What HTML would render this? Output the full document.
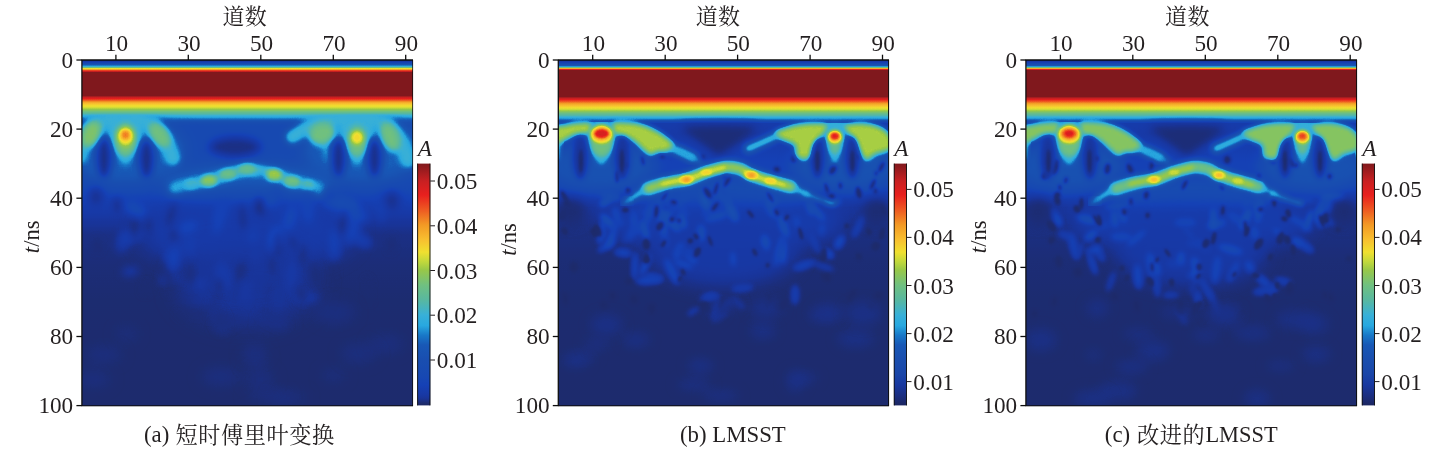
<!DOCTYPE html>
<html><head><meta charset="utf-8"><title>figure</title>
<style>html,body{margin:0;padding:0;background:#fff;}svg{display:block;will-change:transform;}text{font-family:"Liberation Serif","Noto Serif CJK SC",serif;}</style></head><body>
<svg width="1429" height="450" viewBox="0 0 1429 450">
<rect width="1429" height="450" fill="#fff"/>
<defs>
<filter id="jet" x="-5%" y="-5%" width="110%" height="110%" color-interpolation-filters="sRGB"><feComponentTransfer><feFuncR type="table" tableValues="0.114 0.114 0.114 0.114 0.114 0.114 0.114 0.114 0.114 0.114 0.114 0.114 0.114 0.114 0.114 0.114 0.114 0.114 0.114 0.114 0.114 0.114 0.114 0.114 0.114 0.114 0.113 0.113 0.112 0.111 0.111 0.110 0.109 0.108 0.108 0.107 0.106 0.105 0.104 0.103 0.102 0.101 0.100 0.099 0.098 0.098 0.097 0.097 0.096 0.096 0.095 0.095 0.095 0.094 0.094 0.093 0.093 0.092 0.092 0.091 0.091 0.090 0.090 0.089 0.089 0.088 0.087 0.087 0.086 0.086 0.085 0.084 0.084 0.083 0.083 0.083 0.083 0.084 0.084 0.085 0.085 0.086 0.086 0.087 0.088 0.088 0.089 0.089 0.090 0.090 0.091 0.091 0.091 0.092 0.092 0.092 0.093 0.093 0.093 0.094 0.094 0.094 0.095 0.095 0.095 0.096 0.096 0.096 0.097 0.097 0.098 0.098 0.098 0.098 0.097 0.097 0.097 0.097 0.096 0.096 0.096 0.096 0.095 0.095 0.095 0.095 0.094 0.094 0.094 0.094 0.094 0.094 0.094 0.094 0.094 0.094 0.094 0.094 0.099 0.105 0.112 0.119 0.126 0.133 0.139 0.146 0.153 0.160 0.167 0.173 0.180 0.186 0.193 0.200 0.206 0.213 0.220 0.230 0.240 0.250 0.259 0.269 0.280 0.290 0.300 0.310 0.320 0.331 0.341 0.350 0.358 0.366 0.374 0.382 0.390 0.398 0.406 0.415 0.423 0.431 0.440 0.454 0.468 0.482 0.497 0.511 0.525 0.540 0.554 0.569 0.584 0.601 0.629 0.657 0.685 0.714 0.742 0.771 0.798 0.826 0.855 0.883 0.911 0.940 0.945 0.949 0.953 0.957 0.961 0.965 0.969 0.972 0.970 0.968 0.966 0.964 0.962 0.960 0.958 0.956 0.953 0.951 0.949 0.947 0.945 0.943 0.940 0.938 0.936 0.934 0.931 0.929 0.926 0.923 0.920 0.918 0.915 0.912 0.907 0.892 0.876 0.860 0.844 0.827 0.811 0.795 0.774 0.744 0.714 0.684 0.654 0.624 0.594 0.563 0.533 0.502"/><feFuncG type="table" tableValues="0.157 0.157 0.157 0.157 0.157 0.157 0.158 0.158 0.158 0.159 0.159 0.160 0.160 0.161 0.162 0.162 0.163 0.164 0.165 0.166 0.167 0.168 0.169 0.170 0.171 0.172 0.173 0.174 0.176 0.177 0.179 0.180 0.182 0.183 0.185 0.186 0.188 0.190 0.192 0.194 0.195 0.197 0.199 0.201 0.204 0.205 0.207 0.209 0.210 0.212 0.214 0.216 0.218 0.220 0.221 0.223 0.224 0.225 0.227 0.228 0.230 0.232 0.233 0.235 0.236 0.238 0.240 0.241 0.243 0.245 0.247 0.249 0.250 0.252 0.254 0.256 0.258 0.260 0.262 0.264 0.265 0.267 0.269 0.271 0.273 0.275 0.277 0.280 0.282 0.283 0.284 0.285 0.286 0.287 0.288 0.289 0.290 0.291 0.292 0.293 0.294 0.295 0.296 0.297 0.298 0.299 0.300 0.301 0.302 0.303 0.305 0.306 0.308 0.310 0.312 0.315 0.317 0.319 0.322 0.324 0.326 0.329 0.331 0.334 0.336 0.339 0.341 0.344 0.351 0.364 0.376 0.389 0.401 0.414 0.427 0.440 0.453 0.466 0.484 0.504 0.524 0.545 0.565 0.586 0.607 0.627 0.649 0.660 0.664 0.667 0.670 0.674 0.677 0.680 0.684 0.687 0.690 0.693 0.695 0.698 0.700 0.703 0.705 0.708 0.710 0.713 0.715 0.718 0.721 0.723 0.726 0.728 0.731 0.734 0.737 0.739 0.742 0.745 0.748 0.750 0.753 0.756 0.759 0.762 0.764 0.767 0.770 0.773 0.776 0.779 0.782 0.786 0.797 0.809 0.820 0.831 0.843 0.850 0.855 0.859 0.864 0.869 0.873 0.878 0.863 0.848 0.832 0.816 0.800 0.784 0.767 0.751 0.736 0.720 0.704 0.688 0.672 0.656 0.640 0.624 0.608 0.583 0.556 0.528 0.500 0.472 0.444 0.416 0.388 0.359 0.333 0.307 0.281 0.254 0.228 0.201 0.175 0.148 0.125 0.125 0.125 0.125 0.125 0.125 0.125 0.125 0.124 0.122 0.119 0.116 0.113 0.110 0.107 0.104 0.101 0.098"/><feFuncB type="table" tableValues="0.384 0.384 0.385 0.385 0.386 0.386 0.387 0.388 0.390 0.391 0.393 0.395 0.396 0.399 0.401 0.403 0.406 0.409 0.412 0.415 0.418 0.422 0.425 0.429 0.433 0.437 0.443 0.450 0.457 0.465 0.472 0.480 0.489 0.497 0.506 0.515 0.525 0.533 0.541 0.549 0.558 0.567 0.576 0.585 0.594 0.600 0.605 0.610 0.616 0.621 0.627 0.632 0.638 0.643 0.646 0.649 0.652 0.655 0.658 0.661 0.664 0.667 0.670 0.673 0.677 0.680 0.683 0.687 0.690 0.694 0.698 0.701 0.705 0.709 0.712 0.713 0.712 0.711 0.710 0.709 0.708 0.707 0.705 0.704 0.703 0.702 0.701 0.700 0.698 0.698 0.698 0.697 0.697 0.697 0.696 0.696 0.696 0.695 0.695 0.695 0.694 0.694 0.694 0.693 0.693 0.692 0.692 0.692 0.691 0.691 0.691 0.690 0.691 0.693 0.694 0.695 0.697 0.698 0.700 0.701 0.703 0.704 0.705 0.707 0.708 0.710 0.711 0.713 0.717 0.724 0.731 0.738 0.745 0.753 0.760 0.767 0.775 0.782 0.791 0.801 0.811 0.821 0.832 0.842 0.852 0.863 0.873 0.877 0.874 0.870 0.867 0.864 0.860 0.857 0.854 0.850 0.846 0.829 0.812 0.795 0.777 0.760 0.742 0.725 0.707 0.689 0.671 0.653 0.634 0.621 0.610 0.600 0.589 0.578 0.568 0.557 0.546 0.535 0.524 0.513 0.501 0.481 0.462 0.442 0.422 0.402 0.381 0.361 0.341 0.320 0.299 0.281 0.272 0.264 0.256 0.247 0.238 0.231 0.224 0.217 0.210 0.203 0.196 0.189 0.188 0.188 0.188 0.188 0.188 0.188 0.188 0.188 0.183 0.179 0.174 0.170 0.165 0.160 0.156 0.151 0.146 0.144 0.143 0.142 0.140 0.139 0.138 0.136 0.135 0.134 0.132 0.130 0.128 0.127 0.125 0.123 0.121 0.119 0.118 0.120 0.122 0.124 0.126 0.128 0.130 0.132 0.133 0.131 0.128 0.126 0.124 0.122 0.120 0.118 0.116 0.114"/></feComponentTransfer></filter>
<filter id="b0_8" x="-60%" y="-60%" width="220%" height="220%" color-interpolation-filters="sRGB"><feGaussianBlur stdDeviation="0.8"/></filter>
<filter id="b1" x="-60%" y="-60%" width="220%" height="220%" color-interpolation-filters="sRGB"><feGaussianBlur stdDeviation="1"/></filter>
<filter id="b1_2" x="-60%" y="-60%" width="220%" height="220%" color-interpolation-filters="sRGB"><feGaussianBlur stdDeviation="1.2"/></filter>
<filter id="b1_3" x="-60%" y="-60%" width="220%" height="220%" color-interpolation-filters="sRGB"><feGaussianBlur stdDeviation="1.3"/></filter>
<filter id="b1_5" x="-60%" y="-60%" width="220%" height="220%" color-interpolation-filters="sRGB"><feGaussianBlur stdDeviation="1.5"/></filter>
<filter id="b1_6" x="-60%" y="-60%" width="220%" height="220%" color-interpolation-filters="sRGB"><feGaussianBlur stdDeviation="1.6"/></filter>
<filter id="b1_8" x="-60%" y="-60%" width="220%" height="220%" color-interpolation-filters="sRGB"><feGaussianBlur stdDeviation="1.8"/></filter>
<filter id="b2" x="-60%" y="-60%" width="220%" height="220%" color-interpolation-filters="sRGB"><feGaussianBlur stdDeviation="2"/></filter>
<filter id="b2_2" x="-60%" y="-60%" width="220%" height="220%" color-interpolation-filters="sRGB"><feGaussianBlur stdDeviation="2.2"/></filter>
<filter id="b2_5" x="-60%" y="-60%" width="220%" height="220%" color-interpolation-filters="sRGB"><feGaussianBlur stdDeviation="2.5"/></filter>
<filter id="b3" x="-60%" y="-60%" width="220%" height="220%" color-interpolation-filters="sRGB"><feGaussianBlur stdDeviation="3"/></filter>
<filter id="b3_5" x="-60%" y="-60%" width="220%" height="220%" color-interpolation-filters="sRGB"><feGaussianBlur stdDeviation="3.5"/></filter>
<filter id="b4" x="-60%" y="-60%" width="220%" height="220%" color-interpolation-filters="sRGB"><feGaussianBlur stdDeviation="4"/></filter>
<filter id="b5" x="-60%" y="-60%" width="220%" height="220%" color-interpolation-filters="sRGB"><feGaussianBlur stdDeviation="5"/></filter>
<filter id="b6" x="-60%" y="-60%" width="220%" height="220%" color-interpolation-filters="sRGB"><feGaussianBlur stdDeviation="6"/></filter>
<filter id="b7" x="-60%" y="-60%" width="220%" height="220%" color-interpolation-filters="sRGB"><feGaussianBlur stdDeviation="7"/></filter>
<filter id="b8" x="-60%" y="-60%" width="220%" height="220%" color-interpolation-filters="sRGB"><feGaussianBlur stdDeviation="8"/></filter>
<filter id="b10" x="-60%" y="-60%" width="220%" height="220%" color-interpolation-filters="sRGB"><feGaussianBlur stdDeviation="10"/></filter>
<filter id="b12" x="-60%" y="-60%" width="220%" height="220%" color-interpolation-filters="sRGB"><feGaussianBlur stdDeviation="12"/></filter>
<linearGradient id="cb0" x1="0" y1="0" x2="0" y2="1"><stop offset="0.000" stop-color="#80191d"/><stop offset="0.072" stop-color="#c82022"/><stop offset="0.130" stop-color="#e8201e"/><stop offset="0.192" stop-color="#ee5a22"/><stop offset="0.254" stop-color="#f39a25"/><stop offset="0.316" stop-color="#f8c030"/><stop offset="0.366" stop-color="#f0e030"/><stop offset="0.407" stop-color="#c0d83c"/><stop offset="0.440" stop-color="#98c848"/><stop offset="0.502" stop-color="#70c080"/><stop offset="0.564" stop-color="#58b8a0"/><stop offset="0.626" stop-color="#38b0d8"/><stop offset="0.670" stop-color="#28a8e0"/><stop offset="0.710" stop-color="#1878c8"/><stop offset="0.750" stop-color="#1858b6"/><stop offset="0.810" stop-color="#194eb0"/><stop offset="0.880" stop-color="#1748b2"/><stop offset="0.915" stop-color="#1541b6"/><stop offset="0.957" stop-color="#1838a4"/><stop offset="0.970" stop-color="#193498"/><stop offset="0.980" stop-color="#1b3086"/><stop offset="0.990" stop-color="#1d2c70"/><stop offset="1.000" stop-color="#1d2862"/></linearGradient>
<linearGradient id="base0" x1="0" y1="0" x2="0" y2="1"><stop offset="0.0739" stop-color="#242424"/><stop offset="0.1823" stop-color="#d5d5d5"/><stop offset="0.1921" stop-color="#c6c6c6"/><stop offset="0.1970" stop-color="#bdbdbd"/><stop offset="0.2020" stop-color="#b2b2b2"/><stop offset="0.2069" stop-color="#a5a5a5"/><stop offset="0.2118" stop-color="#9a9a9a"/><stop offset="0.2167" stop-color="#8e8e8e"/><stop offset="0.2217" stop-color="#808080"/><stop offset="0.2278" stop-color="#6c6c6c"/><stop offset="0.2365" stop-color="#5f5f5f"/><stop offset="0.3325" stop-color="#5f5f5f"/><stop offset="0.3941" stop-color="#585858"/><stop offset="0.4310" stop-color="#434343"/><stop offset="0.4680" stop-color="#303030"/><stop offset="0.5049" stop-color="#242424"/><stop offset="0.5788" stop-color="#1e1e1e"/><stop offset="0.6650" stop-color="#1a1a1a"/><stop offset="0.9261" stop-color="#171717"/></linearGradient>
<linearGradient id="band0" x1="0" y1="0" x2="0" y2="1"><stop offset="0.0000" stop-color="#242424"/><stop offset="0.0532" stop-color="#333333"/><stop offset="0.0855" stop-color="#5f5f5f"/><stop offset="0.1129" stop-color="#828282"/><stop offset="0.1323" stop-color="#979797"/><stop offset="0.1516" stop-color="#b1b1b1"/><stop offset="0.1677" stop-color="#c9c9c9"/><stop offset="0.1839" stop-color="#d8d8d8"/><stop offset="0.2000" stop-color="#e8e8e8"/><stop offset="0.2161" stop-color="#f5f5f5"/><stop offset="0.2339" stop-color="#ffffff"/><stop offset="0.6048" stop-color="#ffffff"/><stop offset="0.6452" stop-color="#f2f2f2"/><stop offset="0.6855" stop-color="#e4e4e4"/><stop offset="0.7258" stop-color="#d5d5d5"/><stop offset="0.7581" stop-color="#cecece"/><stop offset="0.7984" stop-color="#c7c7c7"/><stop offset="0.8306" stop-color="#bebebe"/><stop offset="0.8629" stop-color="#b4b4b4"/><stop offset="0.8871" stop-color="#ababab"/><stop offset="0.9355" stop-color="#a1a1a1" stop-opacity="0"/></linearGradient>
<linearGradient id="cb1" x1="0" y1="0" x2="0" y2="1"><stop offset="0.000" stop-color="#80191d"/><stop offset="0.072" stop-color="#c82022"/><stop offset="0.130" stop-color="#e8201e"/><stop offset="0.192" stop-color="#ee5a22"/><stop offset="0.254" stop-color="#f39a25"/><stop offset="0.316" stop-color="#f8c030"/><stop offset="0.366" stop-color="#f0e030"/><stop offset="0.407" stop-color="#c0d83c"/><stop offset="0.440" stop-color="#98c848"/><stop offset="0.502" stop-color="#70c080"/><stop offset="0.564" stop-color="#58b8a0"/><stop offset="0.626" stop-color="#38b0d8"/><stop offset="0.670" stop-color="#28a8e0"/><stop offset="0.710" stop-color="#1878c8"/><stop offset="0.750" stop-color="#1858b6"/><stop offset="0.810" stop-color="#1a4eae"/><stop offset="0.870" stop-color="#1a46a8"/><stop offset="0.915" stop-color="#1838a0"/><stop offset="0.960" stop-color="#1b2e80"/><stop offset="1.000" stop-color="#1c2660"/></linearGradient>
<linearGradient id="base1" x1="0" y1="0" x2="0" y2="1"><stop offset="0.0739" stop-color="#242424"/><stop offset="0.1823" stop-color="#d5d5d5"/><stop offset="0.1921" stop-color="#c9c9c9"/><stop offset="0.1995" stop-color="#bdbdbd"/><stop offset="0.2044" stop-color="#b4b4b4"/><stop offset="0.2094" stop-color="#a7a7a7"/><stop offset="0.2143" stop-color="#9b9b9b"/><stop offset="0.2180" stop-color="#909090"/><stop offset="0.2217" stop-color="#828282"/><stop offset="0.2254" stop-color="#5f5f5f"/><stop offset="0.2303" stop-color="#3e3e3e"/><stop offset="0.2562" stop-color="#393939"/><stop offset="0.2857" stop-color="#434343"/><stop offset="0.3325" stop-color="#4c4c4c"/><stop offset="0.3818" stop-color="#4c4c4c"/><stop offset="0.4089" stop-color="#3e3e3e"/><stop offset="0.4384" stop-color="#303030"/><stop offset="0.4803" stop-color="#242424"/><stop offset="0.5665" stop-color="#1d1d1d"/><stop offset="0.6650" stop-color="#1a1a1a"/><stop offset="0.9261" stop-color="#171717"/></linearGradient>
<linearGradient id="band1" x1="0" y1="0" x2="0" y2="1"><stop offset="0.0000" stop-color="#242424"/><stop offset="0.0532" stop-color="#333333"/><stop offset="0.0935" stop-color="#5c5c5c"/><stop offset="0.1258" stop-color="#808080"/><stop offset="0.1435" stop-color="#999999"/><stop offset="0.1597" stop-color="#c6c6c6"/><stop offset="0.1758" stop-color="#e4e4e4"/><stop offset="0.1968" stop-color="#ffffff"/><stop offset="0.6210" stop-color="#ffffff"/><stop offset="0.6532" stop-color="#f5f5f5"/><stop offset="0.6855" stop-color="#eaeaea"/><stop offset="0.7258" stop-color="#dedede"/><stop offset="0.7581" stop-color="#d5d5d5"/><stop offset="0.7903" stop-color="#cecece"/><stop offset="0.8274" stop-color="#c7c7c7"/><stop offset="0.8548" stop-color="#bebebe"/><stop offset="0.8871" stop-color="#b4b4b4"/><stop offset="0.9113" stop-color="#ababab"/><stop offset="0.9516" stop-color="#a1a1a1" stop-opacity="0"/></linearGradient>
<linearGradient id="cb2" x1="0" y1="0" x2="0" y2="1"><stop offset="0.000" stop-color="#80191d"/><stop offset="0.072" stop-color="#c82022"/><stop offset="0.130" stop-color="#e8201e"/><stop offset="0.192" stop-color="#ee5a22"/><stop offset="0.254" stop-color="#f39a25"/><stop offset="0.316" stop-color="#f8c030"/><stop offset="0.366" stop-color="#f0e030"/><stop offset="0.407" stop-color="#c0d83c"/><stop offset="0.440" stop-color="#98c848"/><stop offset="0.502" stop-color="#70c080"/><stop offset="0.564" stop-color="#58b8a0"/><stop offset="0.626" stop-color="#38b0d8"/><stop offset="0.670" stop-color="#28a8e0"/><stop offset="0.710" stop-color="#1878c8"/><stop offset="0.750" stop-color="#1858b6"/><stop offset="0.810" stop-color="#1a4eae"/><stop offset="0.870" stop-color="#1a46a8"/><stop offset="0.915" stop-color="#1838a0"/><stop offset="0.960" stop-color="#1b2e80"/><stop offset="1.000" stop-color="#1c2660"/></linearGradient>
<linearGradient id="base2" x1="0" y1="0" x2="0" y2="1"><stop offset="0.0739" stop-color="#242424"/><stop offset="0.1823" stop-color="#d5d5d5"/><stop offset="0.1921" stop-color="#c9c9c9"/><stop offset="0.1995" stop-color="#bdbdbd"/><stop offset="0.2044" stop-color="#b4b4b4"/><stop offset="0.2094" stop-color="#a7a7a7"/><stop offset="0.2143" stop-color="#9b9b9b"/><stop offset="0.2180" stop-color="#909090"/><stop offset="0.2217" stop-color="#828282"/><stop offset="0.2254" stop-color="#5f5f5f"/><stop offset="0.2303" stop-color="#3e3e3e"/><stop offset="0.2562" stop-color="#393939"/><stop offset="0.2857" stop-color="#434343"/><stop offset="0.3325" stop-color="#4c4c4c"/><stop offset="0.3818" stop-color="#4c4c4c"/><stop offset="0.4089" stop-color="#3e3e3e"/><stop offset="0.4384" stop-color="#303030"/><stop offset="0.4803" stop-color="#242424"/><stop offset="0.5665" stop-color="#1d1d1d"/><stop offset="0.6650" stop-color="#1a1a1a"/><stop offset="0.9261" stop-color="#171717"/></linearGradient>
<linearGradient id="band2" x1="0" y1="0" x2="0" y2="1"><stop offset="0.0000" stop-color="#242424"/><stop offset="0.0532" stop-color="#333333"/><stop offset="0.0935" stop-color="#5c5c5c"/><stop offset="0.1258" stop-color="#808080"/><stop offset="0.1435" stop-color="#999999"/><stop offset="0.1597" stop-color="#c6c6c6"/><stop offset="0.1758" stop-color="#e4e4e4"/><stop offset="0.1968" stop-color="#ffffff"/><stop offset="0.6210" stop-color="#ffffff"/><stop offset="0.6532" stop-color="#f5f5f5"/><stop offset="0.6855" stop-color="#eaeaea"/><stop offset="0.7258" stop-color="#dedede"/><stop offset="0.7581" stop-color="#d5d5d5"/><stop offset="0.7903" stop-color="#cecece"/><stop offset="0.8274" stop-color="#c7c7c7"/><stop offset="0.8548" stop-color="#bebebe"/><stop offset="0.8871" stop-color="#b4b4b4"/><stop offset="0.9113" stop-color="#ababab"/><stop offset="0.9516" stop-color="#a1a1a1" stop-opacity="0"/></linearGradient>
<radialGradient id="gw"><stop offset="0.00" stop-color="#fff" stop-opacity="1.000"/><stop offset="0.15" stop-color="#fff" stop-opacity="0.946"/><stop offset="0.30" stop-color="#fff" stop-opacity="0.794"/><stop offset="0.45" stop-color="#fff" stop-opacity="0.578"/><stop offset="0.60" stop-color="#fff" stop-opacity="0.345"/><stop offset="0.75" stop-color="#fff" stop-opacity="0.146"/><stop offset="0.90" stop-color="#fff" stop-opacity="0.024"/><stop offset="1.00" stop-color="#fff" stop-opacity="0.000"/></radialGradient><radialGradient id="gk"><stop offset="0.00" stop-color="#000" stop-opacity="1.000"/><stop offset="0.15" stop-color="#000" stop-opacity="0.946"/><stop offset="0.30" stop-color="#000" stop-opacity="0.794"/><stop offset="0.45" stop-color="#000" stop-opacity="0.578"/><stop offset="0.60" stop-color="#000" stop-opacity="0.345"/><stop offset="0.75" stop-color="#000" stop-opacity="0.146"/><stop offset="0.90" stop-color="#000" stop-opacity="0.024"/><stop offset="1.00" stop-color="#000" stop-opacity="0.000"/></radialGradient>
</defs>
<clipPath id="cp0"><rect x="82.0" y="60.0" width="331.0" height="346.0"/></clipPath>
<g clip-path="url(#cp0)"><g filter="url(#jet)">
<rect x="52.0" y="30.0" width="391.0" height="406.0" fill="url(#base0)"/>
<g filter="url(#b8)"><ellipse cx="125.0" cy="150.0" rx="62.0" ry="34.0" fill="#828282"/></g>
<g filter="url(#b8)"><ellipse cx="364.0" cy="150.0" rx="62.0" ry="34.0" fill="#828282"/></g>
<g filter="url(#b7)"><ellipse cx="248.0" cy="183.0" rx="88.0" ry="20.0" fill="#808080"/></g>
<g filter="url(#b4)"><ellipse cx="235.0" cy="147.0" rx="27.0" ry="11.0" fill="#242424"/></g>
<path d="M79.0 156.0C79.8 153.3 81.7 144.8 84.0 140.0C86.3 135.2 89.0 130.3 93.0 127.0C97.0 123.7 102.7 121.5 108.0 120.0C113.3 118.5 119.3 118.0 125.0 118.0C130.7 118.0 137.0 118.4 142.0 120.0C147.0 121.6 151.2 124.2 155.0 127.5C158.8 130.8 162.0 134.9 165.0 140.0C168.0 145.1 171.7 155.0 173.0 158.0" fill="none" stroke="#9c9c9c" stroke-width="16.0" stroke-linecap="round" stroke-linejoin="round" filter="url(#b3)"/>
<path d="M110.0 120.0C115.3 116.7 135.7 116.7 141.0 120.0C146.3 123.3 143.2 134.2 142.0 140.0C140.8 145.8 136.8 150.8 134.0 155.0C131.2 159.2 128.3 165.0 125.5 165.0C122.7 165.0 119.8 159.2 117.0 155.0C114.2 150.8 110.2 145.8 109.0 140.0C107.8 134.2 104.7 123.3 110.0 120.0Z" fill="#9c9c9c" filter="url(#b3)"/>
<g filter="url(#b3)"><ellipse cx="104.0" cy="158.0" rx="7.5" ry="20.0" fill="#262626"/></g>
<g filter="url(#b3)"><ellipse cx="146.5" cy="159.0" rx="7.5" ry="19.0" fill="#262626"/></g>
<g filter="url(#b3)"><ellipse cx="91.0" cy="134.0" rx="9.5" ry="14.0" fill="#b8b8b8" transform="rotate(25 91.0 134.0)"/></g>
<g filter="url(#b3)"><ellipse cx="159.5" cy="135.0" rx="8.5" ry="14.0" fill="#b4b4b4" transform="rotate(-38 159.5 135.0)"/></g>
<g filter="url(#b3)"><ellipse cx="125.5" cy="139.5" rx="10.5" ry="16.0" fill="#b8b8b8"/></g>
<g filter="url(#b2_2)"><ellipse cx="125.5" cy="136.0" rx="8.0" ry="9.0" fill="#d0d0d0"/></g>
<g filter="url(#b1_6)"><ellipse cx="125.5" cy="135.0" rx="4.0" ry="4.0" fill="#e0e0e0"/></g>
<path d="M292.0 137.0C294.2 135.7 300.3 131.5 305.0 129.0C309.7 126.5 314.2 123.7 320.0 122.0C325.8 120.3 333.8 119.7 340.0 119.0C346.2 118.3 351.3 117.9 357.0 118.0C362.7 118.1 368.7 118.0 374.0 119.5C379.3 121.0 384.5 123.2 389.0 127.0C393.5 130.8 397.8 136.5 401.0 142.0C404.2 147.5 406.8 157.0 408.0 160.0" fill="none" stroke="#9c9c9c" stroke-width="16.0" stroke-linecap="round" stroke-linejoin="round" filter="url(#b3)"/>
<path d="M320.0 134.0C321.2 136.7 325.3 145.7 327.0 150.0C328.7 154.3 329.5 158.3 330.0 160.0" fill="none" stroke="#979797" stroke-width="7.0" stroke-linecap="round" stroke-linejoin="round" filter="url(#b3)"/>
<path d="M342.0 120.0C347.2 116.5 366.8 116.5 372.0 120.0C377.2 123.5 374.2 135.0 373.0 141.0C371.8 147.0 367.7 152.0 365.0 156.0C362.3 160.0 359.7 165.0 357.0 165.0C354.3 165.0 351.7 160.0 349.0 156.0C346.3 152.0 342.2 147.0 341.0 141.0C339.8 135.0 336.8 123.5 342.0 120.0Z" fill="#9c9c9c" filter="url(#b3)"/>
<g filter="url(#b3)"><ellipse cx="338.5" cy="158.0" rx="7.0" ry="19.0" fill="#262626"/></g>
<g filter="url(#b3)"><ellipse cx="374.5" cy="158.0" rx="7.0" ry="19.0" fill="#262626"/></g>
<g filter="url(#b3)"><ellipse cx="322.0" cy="133.5" rx="14.0" ry="11.0" fill="#b4b4b4" transform="rotate(-18 322.0 133.5)"/></g>
<g filter="url(#b3)"><ellipse cx="390.0" cy="137.0" rx="9.0" ry="15.0" fill="#b4b4b4" transform="rotate(-22 390.0 137.0)"/></g>
<g filter="url(#b3)"><ellipse cx="357.0" cy="141.0" rx="9.5" ry="15.0" fill="#b4b4b4"/></g>
<g filter="url(#b2)"><ellipse cx="357.0" cy="137.5" rx="6.5" ry="7.0" fill="#cdcdcd"/></g>
<path d="M175.0 189.0C177.5 188.3 184.2 186.3 190.0 185.0C195.8 183.7 203.7 182.8 210.0 181.0C216.3 179.2 221.7 176.4 228.0 174.5C234.3 172.6 243.0 170.0 248.0 169.5C253.0 169.0 253.7 170.6 258.0 171.5C262.3 172.4 268.3 173.2 274.0 175.0C279.7 176.8 286.3 180.2 292.0 182.0C297.7 183.8 303.3 184.7 308.0 186.0C312.7 187.3 318.0 189.3 320.0 190.0" fill="none" stroke="#999999" stroke-width="15.0" stroke-linecap="round" stroke-linejoin="round" filter="url(#b3)"/>
<path d="M190.0 185.0C193.3 184.3 203.7 182.8 210.0 181.0C216.3 179.2 221.7 176.4 228.0 174.5C234.3 172.6 243.0 170.0 248.0 169.5C253.0 169.0 253.7 170.6 258.0 171.5C262.3 172.4 268.3 173.2 274.0 175.0C279.7 176.8 286.3 180.2 292.0 182.0C297.7 183.8 305.3 185.3 308.0 186.0" fill="none" stroke="#a9a9a9" stroke-width="6.0" stroke-linecap="round" stroke-linejoin="round" filter="url(#b2_5)"/>
<g filter="url(#b2_2)"><ellipse cx="209.0" cy="181.0" rx="8.0" ry="6.0" fill="#c2c2c2"/></g>
<g filter="url(#b2_2)"><ellipse cx="228.0" cy="174.5" rx="8.0" ry="5.0" fill="#b4b4b4"/></g>
<g filter="url(#b2_2)"><ellipse cx="247.0" cy="169.5" rx="8.0" ry="5.0" fill="#afafaf"/></g>
<g filter="url(#b2_2)"><ellipse cx="274.0" cy="175.0" rx="8.0" ry="6.0" fill="#c2c2c2"/></g>
<g filter="url(#b2_2)"><ellipse cx="292.0" cy="182.0" rx="8.0" ry="5.5" fill="#bababa"/></g>
<g filter="url(#b2_2)"><ellipse cx="308.0" cy="186.0" rx="6.5" ry="5.0" fill="#adadad"/></g>
<g filter="url(#b2_2)"><ellipse cx="191.0" cy="185.0" rx="6.5" ry="4.5" fill="#a5a5a5"/></g>
<g filter="url(#b3)" opacity="0.70"><ellipse cx="261.0" cy="178.0" rx="4.0" ry="7.0" fill="#808080"/></g>
<g filter="url(#b12)" opacity="0.90"><ellipse cx="247.0" cy="232.0" rx="105.0" ry="36.0" fill="#3e3e3e"/></g>
<g filter="url(#b12)" opacity="0.90"><ellipse cx="247.0" cy="285.0" rx="70.0" ry="40.0" fill="#303030"/></g>
<g filter="url(#b4)" opacity="0.85"><ellipse cx="165.8" cy="269.8" rx="14.3" ry="3.7" fill="#2f2f2f" transform="rotate(95.196 165.8 269.8)"/></g>
<g filter="url(#b4)" opacity="0.85"><ellipse cx="351.6" cy="232.2" rx="12.7" ry="5.6" fill="#535353" transform="rotate(114.782 351.6 232.2)"/></g>
<g filter="url(#b4)" opacity="0.85"><ellipse cx="290.1" cy="217.9" rx="13.2" ry="5.4" fill="#616161" transform="rotate(108.402 290.1 217.9)"/></g>
<g filter="url(#b4)" opacity="0.85"><ellipse cx="275.2" cy="237.8" rx="12.7" ry="5.3" fill="#606060" transform="rotate(108.276 275.2 237.8)"/></g>
<g filter="url(#b4)" opacity="0.85"><ellipse cx="214.4" cy="303.7" rx="16.8" ry="3.7" fill="#252525" transform="rotate(111.779 214.4 303.7)"/></g>
<g filter="url(#b4)" opacity="0.85"><ellipse cx="227.2" cy="280.7" rx="11.9" ry="4.4" fill="#404040" transform="rotate(90.3621 227.2 280.7)"/></g>
<g filter="url(#b4)" opacity="0.85"><ellipse cx="273.1" cy="317.4" rx="16.6" ry="6.0" fill="#262626" transform="rotate(34.3156 273.1 317.4)"/></g>
<g filter="url(#b4)" opacity="0.85"><ellipse cx="268.4" cy="292.2" rx="13.7" ry="4.2" fill="#282828" transform="rotate(106.58 268.4 292.2)"/></g>
<g filter="url(#b4)" opacity="0.85"><ellipse cx="219.2" cy="217.9" rx="16.7" ry="3.6" fill="#5e5e5e" transform="rotate(103.44 219.2 217.9)"/></g>
<g filter="url(#b4)" opacity="0.85"><ellipse cx="194.6" cy="314.3" rx="18.0" ry="4.3" fill="#1d1d1d" transform="rotate(0.43363 194.6 314.3)"/></g>
<g filter="url(#b4)" opacity="0.85"><ellipse cx="277.9" cy="202.1" rx="14.1" ry="3.9" fill="#454545" transform="rotate(85.3968 277.9 202.1)"/></g>
<g filter="url(#b4)" opacity="0.85"><ellipse cx="361.0" cy="239.4" rx="11.8" ry="4.7" fill="#515151" transform="rotate(31.7328 361.0 239.4)"/></g>
<g filter="url(#b4)" opacity="0.85"><ellipse cx="291.6" cy="276.6" rx="17.4" ry="4.8" fill="#3d3d3d" transform="rotate(96.0063 291.6 276.6)"/></g>
<g filter="url(#b4)" opacity="0.85"><ellipse cx="315.3" cy="229.4" rx="13.2" ry="4.9" fill="#3c3c3c" transform="rotate(113.89 315.3 229.4)"/></g>
<g filter="url(#b4)" opacity="0.85"><ellipse cx="220.7" cy="274.6" rx="14.3" ry="3.7" fill="#444444" transform="rotate(95.7899 220.7 274.6)"/></g>
<g filter="url(#b4)" opacity="0.85"><ellipse cx="236.5" cy="287.7" rx="15.4" ry="3.6" fill="#2a2a2a" transform="rotate(100.348 236.5 287.7)"/></g>
<g filter="url(#b4)" opacity="0.85"><ellipse cx="169.8" cy="258.2" rx="11.6" ry="4.3" fill="#434343" transform="rotate(81.0013 169.8 258.2)"/></g>
<g filter="url(#b4)" opacity="0.85"><ellipse cx="276.6" cy="237.7" rx="8.3" ry="4.9" fill="#5b5b5b" transform="rotate(103.614 276.6 237.7)"/></g>
<g filter="url(#b4)" opacity="0.85"><ellipse cx="188.1" cy="227.4" rx="9.9" ry="4.6" fill="#5e5e5e" transform="rotate(-20.9044 188.1 227.4)"/></g>
<g filter="url(#b4)" opacity="0.85"><ellipse cx="123.6" cy="240.5" rx="12.4" ry="5.6" fill="#414141" transform="rotate(106.677 123.6 240.5)"/></g>
<g filter="url(#b4)" opacity="0.85"><ellipse cx="196.4" cy="283.8" rx="10.3" ry="3.8" fill="#3c3c3c" transform="rotate(-3.91183 196.4 283.8)"/></g>
<g filter="url(#b4)" opacity="0.85"><ellipse cx="351.9" cy="222.2" rx="14.4" ry="5.5" fill="#505050" transform="rotate(105.361 351.9 222.2)"/></g>
<g filter="url(#b4)" opacity="0.85"><ellipse cx="132.2" cy="236.5" rx="11.5" ry="4.5" fill="#4e4e4e" transform="rotate(-18.306 132.2 236.5)"/></g>
<g filter="url(#b4)" opacity="0.85"><ellipse cx="219.0" cy="319.5" rx="17.4" ry="5.7" fill="#292929" transform="rotate(65.2331 219.0 319.5)"/></g>
<g filter="url(#b4)" opacity="0.85"><ellipse cx="226.6" cy="323.4" rx="15.5" ry="5.6" fill="#242424" transform="rotate(-22.2327 226.6 323.4)"/></g>
<g filter="url(#b4)" opacity="0.85"><ellipse cx="252.9" cy="236.2" rx="8.7" ry="5.0" fill="#484848" transform="rotate(76.3733 252.9 236.2)"/></g>
<g filter="url(#b4)" opacity="0.85"><ellipse cx="343.2" cy="204.0" rx="17.2" ry="5.7" fill="#707070" transform="rotate(15.4964 343.2 204.0)"/></g>
<g filter="url(#b4)" opacity="0.85"><ellipse cx="270.9" cy="199.7" rx="11.0" ry="5.2" fill="#616161" transform="rotate(-26.2543 270.9 199.7)"/></g>
<g filter="url(#b4)" opacity="0.85"><ellipse cx="220.3" cy="322.0" rx="10.5" ry="5.7" fill="#212121" transform="rotate(82.0676 220.3 322.0)"/></g>
<g filter="url(#b4)" opacity="0.85"><ellipse cx="334.5" cy="244.4" rx="16.2" ry="3.9" fill="#5a5a5a" transform="rotate(91.7319 334.5 244.4)"/></g>
<g filter="url(#b4)" opacity="0.85"><ellipse cx="347.3" cy="199.0" rx="8.5" ry="4.2" fill="#545454" transform="rotate(108.128 347.3 199.0)"/></g>
<g filter="url(#b4)" opacity="0.85"><ellipse cx="255.5" cy="253.8" rx="8.0" ry="3.6" fill="#3a3a3a" transform="rotate(103.825 255.5 253.8)"/></g>
<g filter="url(#b4)" opacity="0.85"><ellipse cx="130.6" cy="207.0" rx="8.9" ry="4.8" fill="#545454" transform="rotate(28.3559 130.6 207.0)"/></g>
<g filter="url(#b4)" opacity="0.85"><ellipse cx="189.5" cy="244.4" rx="11.6" ry="4.0" fill="#474747" transform="rotate(94.3307 189.5 244.4)"/></g>
<g filter="url(#b4)" opacity="0.85"><ellipse cx="130.4" cy="271.3" rx="8.8" ry="3.9" fill="#3e3e3e" transform="rotate(-9.58096 130.4 271.3)"/></g>
<g filter="url(#b4)" opacity="0.85"><ellipse cx="279.4" cy="301.3" rx="14.2" ry="4.6" fill="#2d2d2d" transform="rotate(105.058 279.4 301.3)"/></g>
<g filter="url(#b4)" opacity="0.85"><ellipse cx="245.8" cy="290.8" rx="12.6" ry="4.1" fill="#383838" transform="rotate(99.7062 245.8 290.8)"/></g>
<g filter="url(#b4)" opacity="0.85"><ellipse cx="307.5" cy="207.4" rx="16.8" ry="5.8" fill="#575757" transform="rotate(86.2928 307.5 207.4)"/></g>
<g filter="url(#b4)" opacity="0.85"><ellipse cx="173.3" cy="259.3" rx="14.6" ry="5.7" fill="#525252" transform="rotate(105.661 173.3 259.3)"/></g>
<g filter="url(#b4)" opacity="0.85"><ellipse cx="298.9" cy="294.9" rx="13.9" ry="3.5" fill="#2a2a2a" transform="rotate(70.1567 298.9 294.9)"/></g>
<g filter="url(#b4)" opacity="0.85"><ellipse cx="332.0" cy="203.8" rx="16.8" ry="3.9" fill="#434343" transform="rotate(69.965 332.0 203.8)"/></g>
<g filter="url(#b4)" opacity="0.85"><ellipse cx="352.9" cy="214.0" rx="16.4" ry="5.9" fill="#5e5e5e" transform="rotate(13.8828 352.9 214.0)"/></g>
<g filter="url(#b4)" opacity="0.85"><ellipse cx="339.6" cy="202.8" rx="15.2" ry="3.8" fill="#6a6a6a" transform="rotate(0.906059 339.6 202.8)"/></g>
<g filter="url(#b4)" opacity="0.85"><ellipse cx="381.7" cy="206.1" rx="16.3" ry="4.1" fill="#4c4c4c" transform="rotate(93.1989 381.7 206.1)"/></g>
<g filter="url(#b4)" opacity="0.85"><ellipse cx="169.5" cy="279.3" rx="11.7" ry="4.5" fill="#393939" transform="rotate(-8.5016 169.5 279.3)"/></g>
<g filter="url(#b4)" opacity="0.85"><ellipse cx="221.6" cy="209.0" rx="12.1" ry="5.4" fill="#4b4b4b" transform="rotate(113.653 221.6 209.0)"/></g>
<g filter="url(#b4)" opacity="0.85"><ellipse cx="306.2" cy="297.8" rx="12.8" ry="5.1" fill="#3c3c3c" transform="rotate(1.36737 306.2 297.8)"/></g>
<g filter="url(#b4)" opacity="0.85"><ellipse cx="138.3" cy="210.7" rx="13.2" ry="4.6" fill="#666666" transform="rotate(33.3292 138.3 210.7)"/></g>
<g filter="url(#b3_5)" opacity="0.70"><ellipse cx="148.4" cy="223.1" rx="3.4" ry="10.7" fill="#1c1c1c" transform="rotate(-7.4061 148.4 223.1)"/></g>
<g filter="url(#b3_5)" opacity="0.70"><ellipse cx="162.9" cy="267.6" rx="4.9" ry="8.4" fill="#1c1c1c" transform="rotate(8.21333 162.9 267.6)"/></g>
<g filter="url(#b3_5)" opacity="0.70"><ellipse cx="219.7" cy="284.6" rx="4.2" ry="8.1" fill="#1c1c1c" transform="rotate(-11.2958 219.7 284.6)"/></g>
<g filter="url(#b3_5)" opacity="0.70"><ellipse cx="97.3" cy="245.3" rx="3.8" ry="7.4" fill="#1c1c1c" transform="rotate(-5.58119 97.3 245.3)"/></g>
<g filter="url(#b3_5)" opacity="0.70"><ellipse cx="191.1" cy="276.3" rx="3.3" ry="13.9" fill="#1c1c1c" transform="rotate(-0.816406 191.1 276.3)"/></g>
<g filter="url(#b3_5)" opacity="0.70"><ellipse cx="278.1" cy="244.1" rx="4.7" ry="12.6" fill="#1c1c1c" transform="rotate(2.28485 278.1 244.1)"/></g>
<g filter="url(#b3_5)" opacity="0.70"><ellipse cx="241.1" cy="270.7" rx="4.7" ry="9.2" fill="#1c1c1c" transform="rotate(9.34354 241.1 270.7)"/></g>
<g filter="url(#b3_5)" opacity="0.70"><ellipse cx="391.5" cy="244.1" rx="3.5" ry="7.9" fill="#1c1c1c" transform="rotate(8.70753 391.5 244.1)"/></g>
<g filter="url(#b3_5)" opacity="0.70"><ellipse cx="302.1" cy="295.7" rx="4.7" ry="7.9" fill="#1c1c1c" transform="rotate(-12.4151 302.1 295.7)"/></g>
<g filter="url(#b3_5)" opacity="0.70"><ellipse cx="171.2" cy="214.7" rx="4.4" ry="12.9" fill="#1c1c1c" transform="rotate(15.9904 171.2 214.7)"/></g>
<g filter="url(#b3_5)" opacity="0.70"><ellipse cx="170.1" cy="285.8" rx="3.6" ry="9.4" fill="#1c1c1c" transform="rotate(9.15874 170.1 285.8)"/></g>
<g filter="url(#b3_5)" opacity="0.70"><ellipse cx="117.0" cy="204.7" rx="4.7" ry="8.3" fill="#1c1c1c" transform="rotate(-5.73356 117.0 204.7)"/></g>
<g filter="url(#b3_5)" opacity="0.70"><ellipse cx="272.2" cy="265.9" rx="3.0" ry="8.7" fill="#1c1c1c" transform="rotate(-2.55115 272.2 265.9)"/></g>
<g filter="url(#b3_5)" opacity="0.70"><ellipse cx="242.6" cy="217.1" rx="4.2" ry="13.6" fill="#1c1c1c" transform="rotate(-4.3632 242.6 217.1)"/></g>
<g filter="url(#b3_5)" opacity="0.70"><ellipse cx="260.9" cy="207.5" rx="3.5" ry="11.3" fill="#1c1c1c" transform="rotate(-15.4988 260.9 207.5)"/></g>
<g filter="url(#b3_5)" opacity="0.70"><ellipse cx="368.6" cy="290.4" rx="3.2" ry="13.5" fill="#1c1c1c" transform="rotate(-5.03106 368.6 290.4)"/></g>
<g filter="url(#b3_5)" opacity="0.70"><ellipse cx="332.5" cy="274.5" rx="3.6" ry="11.4" fill="#1c1c1c" transform="rotate(6.16313 332.5 274.5)"/></g>
<g filter="url(#b3_5)" opacity="0.70"><ellipse cx="343.1" cy="222.9" rx="4.5" ry="13.7" fill="#1c1c1c" transform="rotate(6.913 343.1 222.9)"/></g>
<g filter="url(#b3_5)" opacity="0.70"><ellipse cx="258.4" cy="206.9" rx="4.0" ry="8.8" fill="#1c1c1c" transform="rotate(8.72373 258.4 206.9)"/></g>
<g filter="url(#b3_5)" opacity="0.70"><ellipse cx="303.1" cy="254.5" rx="3.4" ry="11.2" fill="#1c1c1c" transform="rotate(5.23538 303.1 254.5)"/></g>
<g filter="url(#b3_5)" opacity="0.70"><ellipse cx="146.2" cy="288.4" rx="4.3" ry="7.0" fill="#1c1c1c" transform="rotate(17.2738 146.2 288.4)"/></g>
<g filter="url(#b3_5)" opacity="0.70"><ellipse cx="134.4" cy="229.8" rx="4.4" ry="10.8" fill="#1c1c1c" transform="rotate(2.19695 134.4 229.8)"/></g>
<g filter="url(#b3_5)" opacity="0.70"><ellipse cx="293.3" cy="243.1" rx="3.6" ry="7.4" fill="#1c1c1c" transform="rotate(-17.2561 293.3 243.1)"/></g>
<g filter="url(#b3_5)" opacity="0.70"><ellipse cx="314.8" cy="274.2" rx="4.1" ry="11.9" fill="#1c1c1c" transform="rotate(-5.63111 314.8 274.2)"/></g>
<g filter="url(#b3_5)" opacity="0.70"><ellipse cx="173.5" cy="235.3" rx="4.7" ry="6.3" fill="#1c1c1c" transform="rotate(0.188472 173.5 235.3)"/></g>
<g filter="url(#b3_5)" opacity="0.70"><ellipse cx="167.6" cy="275.7" rx="3.7" ry="8.7" fill="#1c1c1c" transform="rotate(-3.86645 167.6 275.7)"/></g>
<g filter="url(#b4)" opacity="0.75"><ellipse cx="392.0" cy="200.0" rx="8.0" ry="10.0" fill="#1c1c1c"/></g>
<g filter="url(#b4)" opacity="0.75"><ellipse cx="96.0" cy="196.0" rx="8.0" ry="10.0" fill="#1c1c1c"/></g>
<g filter="url(#b7)" opacity="0.70"><ellipse cx="259.9" cy="379.5" rx="14.9" ry="11.1" fill="#262626"/></g>
<g filter="url(#b7)" opacity="0.70"><ellipse cx="126.8" cy="334.3" rx="11.4" ry="6.7" fill="#262626"/></g>
<g filter="url(#b7)" opacity="0.70"><ellipse cx="333.5" cy="375.5" rx="12.6" ry="7.1" fill="#262626"/></g>
<g filter="url(#b7)" opacity="0.70"><ellipse cx="221.2" cy="376.9" rx="21.4" ry="10.5" fill="#262626"/></g>
<g filter="url(#b7)" opacity="0.70"><ellipse cx="275.5" cy="323.2" rx="15.6" ry="7.2" fill="#262626"/></g>
<g filter="url(#b7)" opacity="0.70"><ellipse cx="255.6" cy="361.2" rx="12.8" ry="7.5" fill="#262626"/></g>
<g filter="url(#b7)" opacity="0.70"><ellipse cx="334.3" cy="312.7" rx="21.2" ry="11.3" fill="#262626"/></g>
<g filter="url(#b7)" opacity="0.70"><ellipse cx="386.3" cy="344.5" rx="17.7" ry="9.5" fill="#262626"/></g>
<g filter="url(#b7)" opacity="0.70"><ellipse cx="288.4" cy="397.9" rx="19.6" ry="7.8" fill="#262626"/></g>
<g filter="url(#b7)" opacity="0.70"><ellipse cx="358.6" cy="353.6" rx="18.4" ry="10.4" fill="#262626"/></g>
<g filter="url(#b7)" opacity="0.70"><ellipse cx="92.7" cy="379.3" rx="19.3" ry="9.0" fill="#262626"/></g>
<g filter="url(#b7)" opacity="0.70"><ellipse cx="254.3" cy="351.4" rx="12.7" ry="9.2" fill="#262626"/></g>
<g filter="url(#b7)" opacity="0.70"><ellipse cx="103.5" cy="355.0" rx="19.0" ry="8.7" fill="#262626"/></g>
<g filter="url(#b7)" opacity="0.70"><ellipse cx="267.5" cy="396.3" rx="22.5" ry="6.8" fill="#262626"/></g>
<rect x="52.0" y="58.0" width="391.0" height="62" fill="url(#band0)"/>
</g></g>
<g stroke="#0d0d0d" stroke-width="1.3" fill="none">
<path d="M81.5 60.0H413.0"/>
<path d="M81.9 60.0V406.0"/>
<path d="M81.5 405.8H413.0" stroke-width="1"/>
<path d="M412.6 60.0V406.0" stroke-width="0.8"/>
<path d="M115.9 60.0V54.7"/>
<path d="M188.3 60.0V54.7"/>
<path d="M260.8 60.0V54.7"/>
<path d="M333.3 60.0V54.7"/>
<path d="M405.7 60.0V54.7"/>
<path d="M82.0 60.0H76.4"/>
<path d="M82.0 129.1H76.4"/>
<path d="M82.0 198.2H76.4"/>
<path d="M82.0 267.4H76.4"/>
<path d="M82.0 336.5H76.4"/>
<path d="M82.0 405.6H76.4"/>
</g>
<g font-family="Liberation Serif, serif" font-size="23.2" fill="#231f20">
<text x="116.6" y="50.6" text-anchor="middle">10</text>
<text x="189.1" y="50.6" text-anchor="middle">30</text>
<text x="261.5" y="50.6" text-anchor="middle">50</text>
<text x="334.0" y="50.6" text-anchor="middle">70</text>
<text x="406.4" y="50.6" text-anchor="middle">90</text>
<text x="73.2" y="67.7" text-anchor="end">0</text>
<text x="73.2" y="136.8" text-anchor="end">20</text>
<text x="73.2" y="205.9" text-anchor="end">40</text>
<text x="73.2" y="275.1" text-anchor="end">60</text>
<text x="73.2" y="344.2" text-anchor="end">80</text>
<text x="73.2" y="413.3" text-anchor="end">100</text>
<text transform="translate(38.9 236.8) rotate(-90)" text-anchor="middle" font-size="22.6"><tspan font-style="italic">t</tspan>/ns</text>
<text x="417.7" y="156.3" font-style="italic">A</text>
<text x="436.8" y="189.0">0.05</text>
<text x="436.8" y="233.8">0.04</text>
<text x="436.8" y="278.5">0.03</text>
<text x="436.8" y="323.2">0.02</text>
<text x="436.8" y="368.0">0.01</text>
</g>
<rect x="417.4" y="163.6" width="12.8" height="241.8" fill="url(#cb0)"/>
<g stroke="#231f20" stroke-width="1" fill="none">
<path d="M417.6 163.6V405.4M430.0 163.6V405.4" stroke="#0d0d0d" stroke-opacity="0.9" stroke-width="1"/>
<path d="M430.2 181.0h4.8"/>
<path d="M430.2 225.8h4.8"/>
<path d="M430.2 270.5h4.8"/>
<path d="M430.2 315.2h4.8"/>
<path d="M430.2 360.0h4.8"/>
</g>
<text x="222.4" y="23.6" font-family='"Liberation Serif","Noto Serif CJK SC",serif' font-size="22" letter-spacing="0.3" fill="#231f20">道数</text>
<clipPath id="cp1"><rect x="558.4" y="60.0" width="330.6" height="346.0"/></clipPath>
<g clip-path="url(#cp1)"><g filter="url(#jet)">
<rect x="528.4" y="30.0" width="390.6" height="406.0" fill="url(#base1)"/>
<g filter="url(#b7)"><ellipse cx="600.4" cy="166.0" rx="56.0" ry="26.0" fill="#757575"/></g>
<g filter="url(#b7)"><ellipse cx="846.4" cy="166.0" rx="54.0" ry="26.0" fill="#757575"/></g>
<g filter="url(#b6)"><ellipse cx="723.4" cy="196.0" rx="92.0" ry="15.0" fill="#727272"/></g>
<g filter="url(#b10)" opacity="0.90"><ellipse cx="723.4" cy="222.0" rx="120.0" ry="26.0" fill="#434343"/></g>
<g filter="url(#b10)" opacity="0.90"><ellipse cx="723.4" cy="250.0" rx="75.0" ry="35.0" fill="#393939"/></g>
<g filter="url(#b2_5)" opacity="0.90"><ellipse cx="669.5" cy="212.7" rx="10.3" ry="3.1" fill="#505050" transform="rotate(-42.7564 669.5 212.7)"/></g>
<g filter="url(#b2_5)" opacity="0.90"><ellipse cx="725.7" cy="198.6" rx="6.7" ry="3.2" fill="#7b7b7b" transform="rotate(64.1913 725.7 198.6)"/></g>
<g filter="url(#b2_5)" opacity="0.90"><ellipse cx="608.3" cy="221.7" rx="10.6" ry="3.2" fill="#787878" transform="rotate(44.7709 608.3 221.7)"/></g>
<g filter="url(#b2_5)" opacity="0.90"><ellipse cx="659.0" cy="211.9" rx="12.5" ry="2.8" fill="#6b6b6b" transform="rotate(78.5089 659.0 211.9)"/></g>
<g filter="url(#b2_5)" opacity="0.90"><ellipse cx="765.9" cy="240.2" rx="6.5" ry="2.9" fill="#646464" transform="rotate(63.7673 765.9 240.2)"/></g>
<g filter="url(#b2_5)" opacity="0.90"><ellipse cx="701.2" cy="233.0" rx="8.4" ry="3.9" fill="#686868" transform="rotate(87.1911 701.2 233.0)"/></g>
<g filter="url(#b2_5)" opacity="0.90"><ellipse cx="645.1" cy="265.2" rx="11.8" ry="3.0" fill="#626262" transform="rotate(112.508 645.1 265.2)"/></g>
<g filter="url(#b2_5)" opacity="0.90"><ellipse cx="606.5" cy="245.8" rx="9.9" ry="2.6" fill="#616161" transform="rotate(-34.8015 606.5 245.8)"/></g>
<g filter="url(#b2_5)" opacity="0.90"><ellipse cx="804.4" cy="265.1" rx="11.6" ry="3.5" fill="#545454" transform="rotate(-18.6252 804.4 265.1)"/></g>
<g filter="url(#b2_5)" opacity="0.90"><ellipse cx="710.0" cy="298.2" rx="11.3" ry="2.6" fill="#424242" transform="rotate(-2.59017 710.0 298.2)"/></g>
<g filter="url(#b2_5)" opacity="0.90"><ellipse cx="821.9" cy="229.3" rx="6.2" ry="3.3" fill="#515151" transform="rotate(100.119 821.9 229.3)"/></g>
<g filter="url(#b2_5)" opacity="0.90"><ellipse cx="606.2" cy="201.3" rx="8.0" ry="3.2" fill="#7c7c7c" transform="rotate(-37.066 606.2 201.3)"/></g>
<g filter="url(#b2_5)" opacity="0.90"><ellipse cx="738.5" cy="303.5" rx="8.2" ry="3.2" fill="#343434" transform="rotate(36.3984 738.5 303.5)"/></g>
<g filter="url(#b2_5)" opacity="0.90"><ellipse cx="616.6" cy="215.9" rx="9.9" ry="3.5" fill="#5a5a5a" transform="rotate(74.0002 616.6 215.9)"/></g>
<g filter="url(#b2_5)" opacity="0.90"><ellipse cx="683.4" cy="264.2" rx="10.1" ry="3.5" fill="#585858" transform="rotate(19.0494 683.4 264.2)"/></g>
<g filter="url(#b2_5)" opacity="0.90"><ellipse cx="814.5" cy="242.7" rx="11.1" ry="2.6" fill="#474747" transform="rotate(66.2122 814.5 242.7)"/></g>
<g filter="url(#b2_5)" opacity="0.90"><ellipse cx="634.3" cy="214.1" rx="6.0" ry="2.8" fill="#525252" transform="rotate(63.1545 634.3 214.1)"/></g>
<g filter="url(#b2_5)" opacity="0.90"><ellipse cx="681.7" cy="197.2" rx="7.2" ry="2.9" fill="#656565" transform="rotate(11.4069 681.7 197.2)"/></g>
<g filter="url(#b2_5)" opacity="0.90"><ellipse cx="681.8" cy="209.2" rx="9.7" ry="3.3" fill="#525252" transform="rotate(49.3103 681.8 209.2)"/></g>
<g filter="url(#b2_5)" opacity="0.90"><ellipse cx="601.7" cy="236.5" rx="7.3" ry="2.5" fill="#707070" transform="rotate(109.731 601.7 236.5)"/></g>
<g filter="url(#b2_5)" opacity="0.90"><ellipse cx="732.0" cy="212.2" rx="10.2" ry="4.2" fill="#787878" transform="rotate(61.6225 732.0 212.2)"/></g>
<g filter="url(#b2_5)" opacity="0.90"><ellipse cx="783.4" cy="226.4" rx="12.2" ry="3.4" fill="#6e6e6e" transform="rotate(70.0225 783.4 226.4)"/></g>
<g filter="url(#b2_5)" opacity="0.90"><ellipse cx="671.3" cy="221.7" rx="12.8" ry="3.9" fill="#727272" transform="rotate(48.4926 671.3 221.7)"/></g>
<g filter="url(#b2_5)" opacity="0.90"><ellipse cx="796.8" cy="222.1" rx="6.2" ry="2.5" fill="#595959" transform="rotate(81.3338 796.8 222.1)"/></g>
<g filter="url(#b2_5)" opacity="0.90"><ellipse cx="649.7" cy="279.9" rx="13.5" ry="4.2" fill="#575757" transform="rotate(-5.27723 649.7 279.9)"/></g>
<g filter="url(#b2_5)" opacity="0.90"><ellipse cx="682.0" cy="221.3" rx="7.6" ry="3.6" fill="#757575" transform="rotate(71.8024 682.0 221.3)"/></g>
<g filter="url(#b2_5)" opacity="0.90"><ellipse cx="827.6" cy="253.5" rx="6.7" ry="3.6" fill="#666666" transform="rotate(29.9644 827.6 253.5)"/></g>
<g filter="url(#b2_5)" opacity="0.90"><ellipse cx="716.7" cy="216.1" rx="12.4" ry="4.2" fill="#616161" transform="rotate(-16.7483 716.7 216.1)"/></g>
<g filter="url(#b2_5)" opacity="0.90"><ellipse cx="693.2" cy="311.4" rx="7.0" ry="2.8" fill="#3c3c3c" transform="rotate(-32.9996 693.2 311.4)"/></g>
<g filter="url(#b2_5)" opacity="0.90"><ellipse cx="817.2" cy="212.1" rx="11.3" ry="3.1" fill="#6a6a6a" transform="rotate(48.0306 817.2 212.1)"/></g>
<g filter="url(#b2_5)" opacity="0.90"><ellipse cx="610.5" cy="195.8" rx="10.2" ry="4.1" fill="#6a6a6a" transform="rotate(14.9675 610.5 195.8)"/></g>
<g filter="url(#b2_5)" opacity="0.90"><ellipse cx="635.0" cy="225.2" rx="10.7" ry="2.9" fill="#5f5f5f" transform="rotate(74.4324 635.0 225.2)"/></g>
<g filter="url(#b2_5)" opacity="0.90"><ellipse cx="678.7" cy="250.8" rx="9.4" ry="4.1" fill="#585858" transform="rotate(114.258 678.7 250.8)"/></g>
<g filter="url(#b2_5)" opacity="0.90"><ellipse cx="733.1" cy="258.9" rx="7.5" ry="2.5" fill="#5f5f5f" transform="rotate(86.4075 733.1 258.9)"/></g>
<g filter="url(#b2_5)" opacity="0.90"><ellipse cx="623.1" cy="252.7" rx="8.6" ry="3.4" fill="#595959" transform="rotate(5.64756 623.1 252.7)"/></g>
<g filter="url(#b2_5)" opacity="0.90"><ellipse cx="810.4" cy="207.2" rx="8.2" ry="3.8" fill="#6a6a6a" transform="rotate(74.9097 810.4 207.2)"/></g>
<g filter="url(#b2_5)" opacity="0.90"><ellipse cx="742.3" cy="288.2" rx="10.9" ry="3.4" fill="#444444" transform="rotate(-5.67516 742.3 288.2)"/></g>
<g filter="url(#b2_5)" opacity="0.90"><ellipse cx="782.4" cy="250.1" rx="13.5" ry="3.7" fill="#676767" transform="rotate(88.6822 782.4 250.1)"/></g>
<g filter="url(#b2_5)" opacity="0.90"><ellipse cx="858.7" cy="226.2" rx="12.7" ry="2.7" fill="#4f4f4f" transform="rotate(116.596 858.7 226.2)"/></g>
<g filter="url(#b2_5)" opacity="0.90"><ellipse cx="705.7" cy="203.0" rx="11.4" ry="3.8" fill="#7d7d7d" transform="rotate(64.3872 705.7 203.0)"/></g>
<g filter="url(#b2_5)" opacity="0.90"><ellipse cx="772.4" cy="211.7" rx="7.8" ry="4.1" fill="#636363" transform="rotate(46.7545 772.4 211.7)"/></g>
<g filter="url(#b2_5)" opacity="0.90"><ellipse cx="719.5" cy="316.7" rx="9.5" ry="3.4" fill="#2f2f2f" transform="rotate(-33.8534 719.5 316.7)"/></g>
<g filter="url(#b2_5)" opacity="0.90"><ellipse cx="630.3" cy="233.5" rx="10.4" ry="3.2" fill="#474747" transform="rotate(-48.0517 630.3 233.5)"/></g>
<g filter="url(#b2_5)" opacity="0.90"><ellipse cx="671.8" cy="271.4" rx="13.9" ry="3.8" fill="#5d5d5d" transform="rotate(63.8574 671.8 271.4)"/></g>
<g filter="url(#b2_5)" opacity="0.90"><ellipse cx="602.5" cy="226.9" rx="8.2" ry="2.7" fill="#5f5f5f" transform="rotate(106.74 602.5 226.9)"/></g>
<g filter="url(#b2_5)" opacity="0.90"><ellipse cx="649.5" cy="212.5" rx="11.6" ry="2.7" fill="#505050" transform="rotate(7.05949 649.5 212.5)"/></g>
<g filter="url(#b2_5)" opacity="0.90"><ellipse cx="781.0" cy="246.7" rx="11.1" ry="3.9" fill="#474747" transform="rotate(116.301 781.0 246.7)"/></g>
<g filter="url(#b2_5)" opacity="0.90"><ellipse cx="832.4" cy="202.3" rx="8.7" ry="3.4" fill="#7e7e7e" transform="rotate(-4.62265 832.4 202.3)"/></g>
<g filter="url(#b2_5)" opacity="0.90"><ellipse cx="652.4" cy="210.0" rx="6.9" ry="2.8" fill="#505050" transform="rotate(74.3062 652.4 210.0)"/></g>
<g filter="url(#b2_5)" opacity="0.90"><ellipse cx="632.1" cy="232.7" rx="8.3" ry="3.4" fill="#505050" transform="rotate(105.57 632.1 232.7)"/></g>
<g filter="url(#b2_5)" opacity="0.90"><ellipse cx="676.6" cy="196.3" rx="11.9" ry="3.4" fill="#5c5c5c" transform="rotate(60.9208 676.6 196.3)"/></g>
<g filter="url(#b2_5)" opacity="0.90"><ellipse cx="715.7" cy="309.9" rx="9.5" ry="3.3" fill="#3b3b3b" transform="rotate(109.135 715.7 309.9)"/></g>
<g filter="url(#b2_5)" opacity="0.90"><ellipse cx="690.7" cy="256.8" rx="8.7" ry="3.9" fill="#5d5d5d" transform="rotate(48.2441 690.7 256.8)"/></g>
<g filter="url(#b2_5)" opacity="0.90"><ellipse cx="765.0" cy="244.2" rx="7.0" ry="2.6" fill="#656565" transform="rotate(63.2633 765.0 244.2)"/></g>
<g filter="url(#b2_5)" opacity="0.90"><ellipse cx="648.6" cy="214.2" rx="13.0" ry="3.6" fill="#5c5c5c" transform="rotate(110.476 648.6 214.2)"/></g>
<g filter="url(#b2_5)" opacity="0.90"><ellipse cx="644.5" cy="230.3" rx="9.6" ry="2.9" fill="#737373" transform="rotate(69.452 644.5 230.3)"/></g>
<g filter="url(#b2_5)" opacity="0.90"><ellipse cx="665.1" cy="238.2" rx="9.8" ry="3.4" fill="#505050" transform="rotate(82.8976 665.1 238.2)"/></g>
<g filter="url(#b2_5)" opacity="0.90"><ellipse cx="724.8" cy="194.6" rx="9.2" ry="2.6" fill="#525252" transform="rotate(65.3852 724.8 194.6)"/></g>
<g filter="url(#b2_5)" opacity="0.90"><ellipse cx="663.5" cy="222.9" rx="12.0" ry="3.6" fill="#6d6d6d" transform="rotate(91.7514 663.5 222.9)"/></g>
<g filter="url(#b2_5)" opacity="0.90"><ellipse cx="839.4" cy="242.3" rx="7.2" ry="3.7" fill="#626262" transform="rotate(119.084 839.4 242.3)"/></g>
<g filter="url(#b2_5)" opacity="0.90"><ellipse cx="795.0" cy="294.7" rx="10.0" ry="3.9" fill="#484848" transform="rotate(91.4254 795.0 294.7)"/></g>
<g filter="url(#b2_5)" opacity="0.90"><ellipse cx="823.3" cy="266.4" rx="11.5" ry="2.9" fill="#3d3d3d" transform="rotate(18.2895 823.3 266.4)"/></g>
<g filter="url(#b2_5)" opacity="0.90"><ellipse cx="611.1" cy="238.7" rx="10.5" ry="3.6" fill="#636363" transform="rotate(110.149 611.1 238.7)"/></g>
<g filter="url(#b2_5)" opacity="0.90"><ellipse cx="778.7" cy="254.7" rx="12.0" ry="3.4" fill="#585858" transform="rotate(107.862 778.7 254.7)"/></g>
<g filter="url(#b2_5)" opacity="0.90"><ellipse cx="772.1" cy="202.2" rx="6.6" ry="3.0" fill="#767676" transform="rotate(-24.7806 772.1 202.2)"/></g>
<g filter="url(#b2_5)" opacity="0.90"><ellipse cx="687.5" cy="253.4" rx="10.9" ry="3.6" fill="#444444" transform="rotate(26.697 687.5 253.4)"/></g>
<g filter="url(#b2_5)" opacity="0.90"><ellipse cx="615.5" cy="225.5" rx="10.5" ry="2.5" fill="#4c4c4c" transform="rotate(-19.5583 615.5 225.5)"/></g>
<g filter="url(#b2_5)" opacity="0.90"><ellipse cx="652.6" cy="277.3" rx="8.3" ry="3.4" fill="#494949" transform="rotate(17.5708 652.6 277.3)"/></g>
<g filter="url(#b2_5)" opacity="0.90"><ellipse cx="713.1" cy="208.7" rx="13.8" ry="4.1" fill="#4e4e4e" transform="rotate(-30.075 713.1 208.7)"/></g>
<g filter="url(#b2_5)" opacity="0.90"><ellipse cx="710.8" cy="295.7" rx="8.1" ry="2.9" fill="#4a4a4a" transform="rotate(-5.0549 710.8 295.7)"/></g>
<g filter="url(#b2_5)" opacity="0.90"><ellipse cx="634.9" cy="266.1" rx="13.6" ry="2.7" fill="#5c5c5c" transform="rotate(91.4439 634.9 266.1)"/></g>
<g filter="url(#b2_5)" opacity="0.90"><ellipse cx="726.1" cy="304.0" rx="13.2" ry="3.3" fill="#2a2a2a" transform="rotate(-26.8616 726.1 304.0)"/></g>
<g filter="url(#b1_8)" opacity="0.85"><ellipse cx="564.6" cy="231.1" rx="2.8" ry="3.9" fill="#141414" transform="rotate(-28.7434 564.6 231.1)"/></g>
<g filter="url(#b1_8)" opacity="0.85"><ellipse cx="673.8" cy="202.2" rx="3.6" ry="2.5" fill="#141414" transform="rotate(20.0587 673.8 202.2)"/></g>
<g filter="url(#b1_8)" opacity="0.85"><ellipse cx="832.8" cy="169.8" rx="3.8" ry="5.7" fill="#141414" transform="rotate(32.1253 832.8 169.8)"/></g>
<g filter="url(#b1_8)" opacity="0.85"><ellipse cx="656.4" cy="211.4" rx="2.7" ry="7.0" fill="#141414" transform="rotate(7.13413 656.4 211.4)"/></g>
<g filter="url(#b1_8)" opacity="0.85"><ellipse cx="679.2" cy="220.6" rx="2.4" ry="2.7" fill="#141414" transform="rotate(-31.8632 679.2 220.6)"/></g>
<g filter="url(#b1_8)" opacity="0.85"><ellipse cx="831.3" cy="197.1" rx="3.9" ry="3.6" fill="#141414" transform="rotate(-18.7418 831.3 197.1)"/></g>
<g filter="url(#b1_8)" opacity="0.85"><ellipse cx="727.4" cy="181.3" rx="2.6" ry="6.8" fill="#141414" transform="rotate(30.7413 727.4 181.3)"/></g>
<g filter="url(#b1_8)" opacity="0.85"><ellipse cx="824.0" cy="254.1" rx="3.8" ry="6.7" fill="#141414" transform="rotate(3.93825 824.0 254.1)"/></g>
<g filter="url(#b1_8)" opacity="0.85"><ellipse cx="794.4" cy="158.2" rx="3.4" ry="4.5" fill="#141414" transform="rotate(20.2134 794.4 158.2)"/></g>
<g filter="url(#b1_8)" opacity="0.85"><ellipse cx="770.3" cy="197.2" rx="1.9" ry="6.7" fill="#141414" transform="rotate(-29.8151 770.3 197.2)"/></g>
<g filter="url(#b1_8)" opacity="0.85"><ellipse cx="715.0" cy="206.7" rx="2.5" ry="5.8" fill="#141414" transform="rotate(38.1037 715.0 206.7)"/></g>
<g filter="url(#b1_8)" opacity="0.85"><ellipse cx="646.9" cy="258.2" rx="2.5" ry="5.0" fill="#141414" transform="rotate(-8.45058 646.9 258.2)"/></g>
<g filter="url(#b1_8)" opacity="0.85"><ellipse cx="617.1" cy="176.7" rx="2.3" ry="6.6" fill="#141414" transform="rotate(-0.233937 617.1 176.7)"/></g>
<g filter="url(#b1_8)" opacity="0.85"><ellipse cx="634.0" cy="299.5" rx="4.0" ry="4.5" fill="#141414" transform="rotate(-28.8323 634.0 299.5)"/></g>
<g filter="url(#b1_8)" opacity="0.85"><ellipse cx="625.2" cy="165.0" rx="2.6" ry="2.9" fill="#141414" transform="rotate(-20.8699 625.2 165.0)"/></g>
<g filter="url(#b1_8)" opacity="0.85"><ellipse cx="646.3" cy="244.0" rx="3.8" ry="5.9" fill="#141414" transform="rotate(-6.97747 646.3 244.0)"/></g>
<g filter="url(#b1_8)" opacity="0.85"><ellipse cx="696.3" cy="236.5" rx="2.6" ry="4.0" fill="#141414" transform="rotate(-35.0352 696.3 236.5)"/></g>
<g filter="url(#b1_8)" opacity="0.85"><ellipse cx="652.5" cy="309.7" rx="2.1" ry="4.8" fill="#141414" transform="rotate(10.3702 652.5 309.7)"/></g>
<g filter="url(#b1_8)" opacity="0.85"><ellipse cx="840.4" cy="185.6" rx="2.4" ry="3.6" fill="#141414" transform="rotate(-8.01943 840.4 185.6)"/></g>
<g filter="url(#b1_8)" opacity="0.85"><ellipse cx="706.5" cy="307.4" rx="3.7" ry="6.4" fill="#141414" transform="rotate(-38.2552 706.5 307.4)"/></g>
<g filter="url(#b1_8)" opacity="0.85"><ellipse cx="573.8" cy="267.1" rx="3.8" ry="4.6" fill="#141414" transform="rotate(6.97412 573.8 267.1)"/></g>
<g filter="url(#b1_8)" opacity="0.85"><ellipse cx="563.5" cy="214.6" rx="3.8" ry="6.2" fill="#141414" transform="rotate(28.437 563.5 214.6)"/></g>
<g filter="url(#b1_8)" opacity="0.85"><ellipse cx="875.5" cy="191.0" rx="2.0" ry="3.2" fill="#141414" transform="rotate(1.78925 875.5 191.0)"/></g>
<g filter="url(#b1_8)" opacity="0.85"><ellipse cx="782.3" cy="305.3" rx="3.4" ry="5.4" fill="#141414" transform="rotate(21.184 782.3 305.3)"/></g>
<g filter="url(#b1_8)" opacity="0.85"><ellipse cx="710.2" cy="241.0" rx="1.9" ry="6.0" fill="#141414" transform="rotate(-21.3939 710.2 241.0)"/></g>
<g filter="url(#b1_8)" opacity="0.85"><ellipse cx="858.7" cy="256.5" rx="2.5" ry="3.1" fill="#141414" transform="rotate(-19.8565 858.7 256.5)"/></g>
<g filter="url(#b1_8)" opacity="0.85"><ellipse cx="767.6" cy="265.3" rx="2.0" ry="2.8" fill="#141414" transform="rotate(1.95493 767.6 265.3)"/></g>
<g filter="url(#b1_8)" opacity="0.85"><ellipse cx="750.5" cy="214.0" rx="2.3" ry="5.2" fill="#141414" transform="rotate(-39.1631 750.5 214.0)"/></g>
<g filter="url(#b1_8)" opacity="0.85"><ellipse cx="660.2" cy="226.0" rx="3.9" ry="5.4" fill="#141414" transform="rotate(30.7019 660.2 226.0)"/></g>
<g filter="url(#b1_8)" opacity="0.85"><ellipse cx="716.0" cy="188.7" rx="2.3" ry="6.8" fill="#141414" transform="rotate(16.3723 716.0 188.7)"/></g>
<g filter="url(#b1_8)" opacity="0.85"><ellipse cx="662.1" cy="153.6" rx="2.9" ry="5.5" fill="#141414" transform="rotate(-6.39873 662.1 153.6)"/></g>
<g filter="url(#b1_8)" opacity="0.85"><ellipse cx="646.0" cy="260.1" rx="3.8" ry="3.5" fill="#141414" transform="rotate(-37.2722 646.0 260.1)"/></g>
<g filter="url(#b1_8)" opacity="0.85"><ellipse cx="671.9" cy="219.4" rx="3.3" ry="3.4" fill="#141414" transform="rotate(23.7651 671.9 219.4)"/></g>
<g filter="url(#b1_8)" opacity="0.85"><ellipse cx="800.7" cy="233.3" rx="2.3" ry="6.9" fill="#141414" transform="rotate(-15.0627 800.7 233.3)"/></g>
<g filter="url(#b1_8)" opacity="0.85"><ellipse cx="826.6" cy="188.1" rx="2.3" ry="5.9" fill="#141414" transform="rotate(-16.4054 826.6 188.1)"/></g>
<g filter="url(#b1_8)" opacity="0.85"><ellipse cx="869.0" cy="231.8" rx="2.2" ry="3.5" fill="#141414" transform="rotate(-6.63767 869.0 231.8)"/></g>
<g filter="url(#b1_8)" opacity="0.85"><ellipse cx="777.0" cy="306.5" rx="2.1" ry="4.3" fill="#141414" transform="rotate(-22.9641 777.0 306.5)"/></g>
<g filter="url(#b1_8)" opacity="0.85"><ellipse cx="876.1" cy="173.4" rx="1.9" ry="2.8" fill="#141414" transform="rotate(-8.53426 876.1 173.4)"/></g>
<g filter="url(#b1_8)" opacity="0.85"><ellipse cx="851.7" cy="295.8" rx="3.4" ry="7.0" fill="#141414" transform="rotate(34.5276 851.7 295.8)"/></g>
<g filter="url(#b1_8)" opacity="0.85"><ellipse cx="669.1" cy="180.6" rx="3.9" ry="5.9" fill="#141414" transform="rotate(-37.4485 669.1 180.6)"/></g>
<g filter="url(#b1_8)" opacity="0.85"><ellipse cx="776.7" cy="212.5" rx="2.6" ry="4.0" fill="#141414" transform="rotate(-26.4591 776.7 212.5)"/></g>
<g filter="url(#b1_8)" opacity="0.85"><ellipse cx="564.3" cy="196.2" rx="2.6" ry="6.8" fill="#141414" transform="rotate(-30.1033 564.3 196.2)"/></g>
<g filter="url(#b1_8)" opacity="0.85"><ellipse cx="872.9" cy="184.2" rx="2.6" ry="6.2" fill="#141414" transform="rotate(25.7606 872.9 184.2)"/></g>
<g filter="url(#b1_8)" opacity="0.85"><ellipse cx="702.2" cy="158.1" rx="2.8" ry="4.2" fill="#141414" transform="rotate(33.5605 702.2 158.1)"/></g>
<g filter="url(#b1_8)" opacity="0.85"><ellipse cx="625.4" cy="210.1" rx="3.8" ry="2.6" fill="#141414" transform="rotate(-7.13585 625.4 210.1)"/></g>
<g filter="url(#b1_8)" opacity="0.85"><ellipse cx="824.0" cy="276.5" rx="1.9" ry="2.7" fill="#141414" transform="rotate(-34.9936 824.0 276.5)"/></g>
<g filter="url(#b1_8)" opacity="0.85"><ellipse cx="858.7" cy="192.4" rx="3.4" ry="6.5" fill="#141414" transform="rotate(-12.8744 858.7 192.4)"/></g>
<g filter="url(#b1_8)" opacity="0.85"><ellipse cx="650.8" cy="308.0" rx="3.2" ry="3.7" fill="#141414" transform="rotate(17.3309 650.8 308.0)"/></g>
<g filter="url(#b1_8)" opacity="0.85"><ellipse cx="665.0" cy="195.5" rx="1.8" ry="5.9" fill="#141414" transform="rotate(33.3168 665.0 195.5)"/></g>
<g filter="url(#b1_8)" opacity="0.85"><ellipse cx="766.9" cy="305.6" rx="1.9" ry="3.6" fill="#141414" transform="rotate(-1.98488 766.9 305.6)"/></g>
<g filter="url(#b1_8)" opacity="0.85"><ellipse cx="870.5" cy="307.4" rx="2.7" ry="3.6" fill="#141414" transform="rotate(-5.60495 870.5 307.4)"/></g>
<g filter="url(#b1_8)" opacity="0.85"><ellipse cx="721.8" cy="303.1" rx="2.2" ry="6.1" fill="#141414" transform="rotate(19.079 721.8 303.1)"/></g>
<g filter="url(#b1_8)" opacity="0.85"><ellipse cx="827.5" cy="277.5" rx="3.1" ry="4.0" fill="#141414" transform="rotate(-14.4361 827.5 277.5)"/></g>
<g filter="url(#b1_8)" opacity="0.85"><ellipse cx="679.6" cy="279.1" rx="2.0" ry="3.4" fill="#141414" transform="rotate(20.2309 679.6 279.1)"/></g>
<g filter="url(#b1_8)" opacity="0.85"><ellipse cx="642.8" cy="160.7" rx="1.9" ry="5.0" fill="#141414" transform="rotate(-13.9393 642.8 160.7)"/></g>
<g filter="url(#b1_8)" opacity="0.85"><ellipse cx="878.1" cy="295.8" rx="4.0" ry="3.7" fill="#141414" transform="rotate(-33.2734 878.1 295.8)"/></g>
<g filter="url(#b1_8)" opacity="0.85"><ellipse cx="594.4" cy="232.2" rx="3.4" ry="4.5" fill="#141414" transform="rotate(-21.2643 594.4 232.2)"/></g>
<g filter="url(#b1_8)" opacity="0.85"><ellipse cx="697.2" cy="252.4" rx="3.3" ry="5.9" fill="#141414" transform="rotate(27.759 697.2 252.4)"/></g>
<g filter="url(#b1_8)" opacity="0.85"><ellipse cx="776.7" cy="170.0" rx="3.6" ry="3.8" fill="#141414" transform="rotate(5.35074 776.7 170.0)"/></g>
<g filter="url(#b1_8)" opacity="0.85"><ellipse cx="683.1" cy="271.8" rx="2.2" ry="3.6" fill="#141414" transform="rotate(-20.3728 683.1 271.8)"/></g>
<g filter="url(#b1_8)" opacity="0.85"><ellipse cx="612.6" cy="295.9" rx="3.1" ry="4.0" fill="#141414" transform="rotate(-8.31443 612.6 295.9)"/></g>
<g filter="url(#b1_8)" opacity="0.85"><ellipse cx="882.0" cy="233.7" rx="2.3" ry="6.1" fill="#141414" transform="rotate(12.2661 882.0 233.7)"/></g>
<g filter="url(#b1_8)" opacity="0.85"><ellipse cx="881.5" cy="166.9" rx="2.8" ry="6.2" fill="#141414" transform="rotate(27.2445 881.5 166.9)"/></g>
<g filter="url(#b1_8)" opacity="0.85"><ellipse cx="856.9" cy="156.7" rx="2.4" ry="3.0" fill="#141414" transform="rotate(-24.8341 856.9 156.7)"/></g>
<g filter="url(#b1_8)" opacity="0.85"><ellipse cx="875.7" cy="246.2" rx="3.8" ry="4.2" fill="#141414" transform="rotate(29.2902 875.7 246.2)"/></g>
<g filter="url(#b1_8)" opacity="0.85"><ellipse cx="707.6" cy="192.9" rx="3.5" ry="6.8" fill="#141414" transform="rotate(-31.5376 707.6 192.9)"/></g>
<g filter="url(#b1_8)" opacity="0.85"><ellipse cx="754.8" cy="252.3" rx="2.3" ry="4.2" fill="#141414" transform="rotate(-28.6904 754.8 252.3)"/></g>
<g filter="url(#b1_8)" opacity="0.85"><ellipse cx="628.9" cy="192.1" rx="3.1" ry="5.4" fill="#141414" transform="rotate(-23.7247 628.9 192.1)"/></g>
<g filter="url(#b1_8)" opacity="0.85"><ellipse cx="567.1" cy="204.0" rx="3.3" ry="3.3" fill="#141414" transform="rotate(-15.0243 567.1 204.0)"/></g>
<g filter="url(#b1_8)" opacity="0.85"><ellipse cx="628.7" cy="281.2" rx="3.0" ry="2.8" fill="#141414" transform="rotate(-31.889 628.7 281.2)"/></g>
<g filter="url(#b1_8)" opacity="0.85"><ellipse cx="690.3" cy="240.8" rx="3.2" ry="2.9" fill="#141414" transform="rotate(-26.9049 690.3 240.8)"/></g>
<g filter="url(#b1_8)" opacity="0.85"><ellipse cx="786.6" cy="217.6" rx="2.4" ry="3.9" fill="#141414" transform="rotate(36.2551 786.6 217.6)"/></g>
<g filter="url(#b1_8)" opacity="0.85"><ellipse cx="663.7" cy="243.5" rx="2.6" ry="4.4" fill="#141414" transform="rotate(29.1397 663.7 243.5)"/></g>
<g filter="url(#b1_8)" opacity="0.85"><ellipse cx="883.3" cy="210.0" rx="2.2" ry="5.8" fill="#141414" transform="rotate(-23.7066 883.3 210.0)"/></g>
<g filter="url(#b1_8)" opacity="0.85"><ellipse cx="565.3" cy="298.8" rx="2.7" ry="6.2" fill="#141414" transform="rotate(-7.50259 565.3 298.8)"/></g>
<g filter="url(#b1_8)" opacity="0.85"><ellipse cx="846.8" cy="226.0" rx="2.2" ry="2.6" fill="#141414" transform="rotate(4.12383 846.8 226.0)"/></g>
<g filter="url(#b1_8)" opacity="0.85"><ellipse cx="769.1" cy="300.1" rx="2.0" ry="5.3" fill="#141414" transform="rotate(-10.3325 769.1 300.1)"/></g>
<g filter="url(#b1_8)" opacity="0.85"><ellipse cx="725.3" cy="174.1" rx="2.4" ry="4.8" fill="#141414" transform="rotate(34.04 725.3 174.1)"/></g>
<g filter="url(#b1_8)" opacity="0.85"><ellipse cx="598.3" cy="230.9" rx="3.6" ry="6.9" fill="#141414" transform="rotate(-24.2127 598.3 230.9)"/></g>
<g filter="url(#b1_8)" opacity="0.85"><ellipse cx="604.1" cy="305.6" rx="3.9" ry="4.7" fill="#141414" transform="rotate(-35.73 604.1 305.6)"/></g>
<g filter="url(#b6)" opacity="0.70"><ellipse cx="855.5" cy="338.8" rx="18.9" ry="9.3" fill="#292929"/></g>
<g filter="url(#b6)" opacity="0.70"><ellipse cx="824.0" cy="316.0" rx="17.4" ry="6.6" fill="#292929"/></g>
<g filter="url(#b6)" opacity="0.70"><ellipse cx="693.8" cy="384.6" rx="18.0" ry="6.3" fill="#292929"/></g>
<g filter="url(#b6)" opacity="0.70"><ellipse cx="636.0" cy="340.0" rx="14.2" ry="7.7" fill="#292929"/></g>
<g filter="url(#b6)" opacity="0.70"><ellipse cx="606.5" cy="324.7" rx="16.7" ry="11.3" fill="#292929"/></g>
<g filter="url(#b6)" opacity="0.70"><ellipse cx="581.1" cy="356.2" rx="17.1" ry="5.3" fill="#292929"/></g>
<g filter="url(#b6)" opacity="0.70"><ellipse cx="828.2" cy="311.8" rx="15.2" ry="8.9" fill="#292929"/></g>
<g filter="url(#b6)" opacity="0.70"><ellipse cx="762.8" cy="330.6" rx="13.0" ry="9.1" fill="#292929"/></g>
<g filter="url(#b6)" opacity="0.70"><ellipse cx="700.4" cy="365.9" rx="13.4" ry="8.1" fill="#292929"/></g>
<g filter="url(#b6)" opacity="0.70"><ellipse cx="575.6" cy="361.9" rx="13.9" ry="6.6" fill="#292929"/></g>
<g filter="url(#b6)" opacity="0.70"><ellipse cx="805.1" cy="378.0" rx="13.5" ry="6.3" fill="#292929"/></g>
<g filter="url(#b6)" opacity="0.70"><ellipse cx="715.1" cy="310.7" rx="9.5" ry="8.0" fill="#292929"/></g>
<g filter="url(#b6)" opacity="0.70"><ellipse cx="596.8" cy="344.2" rx="14.1" ry="5.3" fill="#292929"/></g>
<g filter="url(#b6)" opacity="0.70"><ellipse cx="765.7" cy="308.2" rx="16.8" ry="10.4" fill="#292929"/></g>
<g filter="url(#b6)" opacity="0.70"><ellipse cx="727.0" cy="305.4" rx="14.0" ry="7.6" fill="#292929"/></g>
<g filter="url(#b6)" opacity="0.70"><ellipse cx="863.2" cy="313.6" rx="18.3" ry="12.0" fill="#292929"/></g>
<g filter="url(#b6)" opacity="0.70"><ellipse cx="795.3" cy="381.5" rx="10.3" ry="11.9" fill="#292929"/></g>
<g filter="url(#b6)" opacity="0.70"><ellipse cx="720.9" cy="395.7" rx="19.0" ry="6.2" fill="#292929"/></g>
<path d="M684.4 126.0C694.7 124.0 744.1 124.0 754.4 126.0C764.7 128.0 750.1 134.2 746.4 138.0C742.7 141.8 737.1 145.8 732.4 149.0C727.7 152.2 722.7 157.0 718.4 157.0C714.1 157.0 710.7 152.2 706.4 149.0C702.1 145.8 696.1 141.8 692.4 138.0C688.7 134.2 674.1 128.0 684.4 126.0Z" fill="#1e1e1e" filter="url(#b5)"/>
<g filter="url(#b6)"><ellipse cx="570.4" cy="212.0" rx="16.0" ry="14.0" fill="#1c1c1c"/></g>
<g filter="url(#b6)"><ellipse cx="876.4" cy="212.0" rx="14.0" ry="14.0" fill="#1c1c1c"/></g>
<path d="M555.4 157.0C555.7 155.3 556.6 150.2 557.4 147.0C558.2 143.8 559.9 139.5 560.4 138.0" fill="none" stroke="#9b9b9b" stroke-width="9.0" stroke-linecap="round" stroke-linejoin="round" filter="url(#b2)"/>
<path d="M586.4 127.0C588.9 126.5 596.6 124.3 601.6 124.3C606.6 124.3 613.9 126.5 616.4 127.0" fill="none" stroke="#9b9b9b" stroke-width="7.5" stroke-linecap="round" stroke-linejoin="round" filter="url(#b2)"/>
<path d="M662.4 145.0C664.7 145.8 671.4 147.9 676.4 150.0C681.4 152.1 689.7 156.2 692.4 157.5" fill="none" stroke="#9b9b9b" stroke-width="11.0" stroke-linecap="round" stroke-linejoin="round" filter="url(#b2_5)"/>
<path d="M589.4 124.0C587.2 122.6 580.6 123.2 576.4 123.5C572.2 123.8 568.1 124.7 564.4 125.5C560.7 126.3 556.1 125.6 554.4 128.5C552.7 131.4 552.7 141.2 554.4 143.0C556.1 144.8 560.9 141.0 564.4 139.5C567.9 138.0 571.2 135.2 575.4 134.0C579.6 132.8 587.1 133.7 589.4 132.0C591.7 130.3 591.6 125.4 589.4 124.0Z" fill="#9b9b9b" filter="url(#b2)"/>
<path d="M589.4 124.0C587.2 123.9 580.6 123.2 576.4 123.5C572.2 123.8 568.1 124.7 564.4 125.5C560.7 126.3 556.1 125.6 554.4 128.5C552.7 131.4 552.7 141.2 554.4 143.0C556.1 144.8 560.9 141.0 564.4 139.5C567.9 138.0 571.2 135.2 575.4 134.0C579.6 132.8 587.1 133.7 589.4 132.0C591.7 130.3 589.4 125.3 589.4 124.0" fill="none" stroke="#9b9b9b" stroke-width="5.0" stroke-linecap="round" stroke-linejoin="round" filter="url(#b2)"/>
<path d="M614.4 123.5C616.7 121.9 623.7 122.7 628.4 123.0C633.1 123.3 638.1 124.2 642.4 125.5C646.7 126.8 650.6 128.5 654.4 130.5C658.2 132.5 662.4 135.1 665.4 137.5C668.4 139.9 672.2 142.8 672.4 145.0C672.6 147.2 668.9 149.4 666.4 150.5C663.9 151.6 660.1 150.9 657.4 151.5C654.7 152.1 652.7 154.4 650.4 154.0C648.1 153.6 645.9 151.1 643.4 149.0C640.9 146.9 638.4 143.8 635.4 141.5C632.4 139.2 628.9 137.0 625.4 135.5C621.9 134.0 616.2 134.5 614.4 132.5C612.6 130.5 612.1 125.1 614.4 123.5Z" fill="#9b9b9b" filter="url(#b2)"/>
<path d="M614.4 123.5C616.7 123.4 623.7 122.7 628.4 123.0C633.1 123.3 638.1 124.2 642.4 125.5C646.7 126.8 650.6 128.5 654.4 130.5C658.2 132.5 662.4 135.1 665.4 137.5C668.4 139.9 672.2 142.8 672.4 145.0C672.6 147.2 668.9 149.4 666.4 150.5C663.9 151.6 660.1 150.9 657.4 151.5C654.7 152.1 652.7 154.4 650.4 154.0C648.1 153.6 645.9 151.1 643.4 149.0C640.9 146.9 638.4 143.8 635.4 141.5C632.4 139.2 628.9 137.0 625.4 135.5C621.9 134.0 616.2 134.5 614.4 132.5C612.6 130.5 614.4 125.0 614.4 123.5" fill="none" stroke="#9b9b9b" stroke-width="5.0" stroke-linecap="round" stroke-linejoin="round" filter="url(#b2)"/>
<path d="M678.4 151.0C680.4 151.9 686.7 154.8 690.4 156.5C694.1 158.2 698.7 160.7 700.4 161.5" fill="none" stroke="#909090" stroke-width="6.0" stroke-linecap="round" stroke-linejoin="round" filter="url(#b2_5)"/>
<path d="M586.9 124.0C591.9 121.0 611.4 121.0 616.4 124.0C621.4 127.0 618.1 136.5 616.9 142.0C615.7 147.5 611.9 153.1 609.4 157.0C606.9 160.9 604.3 165.5 601.6 165.5C598.9 165.5 595.9 160.9 593.4 157.0C590.9 153.1 587.5 147.5 586.4 142.0C585.3 136.5 581.9 127.0 586.9 124.0Z" fill="#9b9b9b" filter="url(#b2_5)"/>
<g filter="url(#b2_5)"><ellipse cx="580.4" cy="158.0" rx="8.0" ry="22.0" fill="#303030"/></g>
<g filter="url(#b2_5)"><ellipse cx="622.4" cy="158.0" rx="8.0" ry="22.0" fill="#303030"/></g>
<g filter="url(#b1_5)"><ellipse cx="580.9" cy="161.0" rx="2.0" ry="12.0" fill="#171717"/></g>
<g filter="url(#b1_5)"><ellipse cx="621.9" cy="161.0" rx="2.0" ry="12.0" fill="#171717"/></g>
<path d="M589.4 124.0C587.2 122.6 580.6 123.2 576.4 123.5C572.2 123.8 568.1 124.7 564.4 125.5C560.7 126.3 556.1 125.6 554.4 128.5C552.7 131.4 552.7 141.2 554.4 143.0C556.1 144.8 560.9 141.0 564.4 139.5C567.9 138.0 571.2 135.2 575.4 134.0C579.6 132.8 587.1 133.7 589.4 132.0C591.7 130.3 591.6 125.4 589.4 124.0Z" fill="#c1c1c1" filter="url(#b2_2)"/>
<path d="M614.4 123.5C616.7 121.9 623.7 122.7 628.4 123.0C633.1 123.3 638.1 124.2 642.4 125.5C646.7 126.8 650.6 128.5 654.4 130.5C658.2 132.5 662.4 135.1 665.4 137.5C668.4 139.9 672.2 142.8 672.4 145.0C672.6 147.2 668.9 149.4 666.4 150.5C663.9 151.6 660.1 150.9 657.4 151.5C654.7 152.1 652.7 154.4 650.4 154.0C648.1 153.6 645.9 151.1 643.4 149.0C640.9 146.9 638.4 143.8 635.4 141.5C632.4 139.2 628.9 137.0 625.4 135.5C621.9 134.0 616.2 134.5 614.4 132.5C612.6 130.5 612.1 125.1 614.4 123.5Z" fill="#c1c1c1" filter="url(#b2_2)"/>
<g filter="url(#b2_5)"><ellipse cx="601.6" cy="141.0" rx="11.0" ry="15.5" fill="#b4b4b4"/></g>
<g filter="url(#b1_8)"><ellipse cx="601.6" cy="134.2" rx="11.5" ry="9.5" fill="#cfcfcf"/></g>
<g filter="url(#b1_3)"><ellipse cx="601.6" cy="133.8" rx="8.2" ry="5.7" fill="#e3e3e3"/></g>
<g filter="url(#b1)"><ellipse cx="601.6" cy="133.6" rx="6.3" ry="3.7" fill="#f2f2f2"/></g>
<path d="M748.4 148.5C751.1 147.3 759.1 143.9 764.4 141.5C769.7 139.1 777.7 135.2 780.4 134.0" fill="none" stroke="#9b9b9b" stroke-width="10.0" stroke-linecap="round" stroke-linejoin="round" filter="url(#b2_5)"/>
<path d="M821.4 127.0C823.6 126.6 830.3 124.5 834.8 124.5C839.3 124.5 846.1 126.6 848.4 127.0" fill="none" stroke="#9b9b9b" stroke-width="7.5" stroke-linecap="round" stroke-linejoin="round" filter="url(#b2)"/>
<path d="M889.4 145.0C889.7 146.8 891.1 154.2 891.4 156.0" fill="none" stroke="#9b9b9b" stroke-width="8.0" stroke-linecap="round" stroke-linejoin="round" filter="url(#b2)"/>
<path d="M824.4 124.5C820.1 123.3 806.2 123.7 798.4 125.0C790.6 126.3 780.0 130.2 777.4 132.5C774.8 134.8 780.0 137.0 782.9 139.0C785.8 141.0 792.4 141.6 794.9 144.5C797.4 147.4 795.6 154.3 797.9 156.5C800.2 158.7 806.2 159.6 808.9 157.5C811.6 155.4 811.3 148.2 813.9 144.0C816.5 139.8 822.6 135.2 824.4 132.0C826.1 128.8 828.7 125.7 824.4 124.5Z" fill="#9b9b9b" filter="url(#b2)"/>
<path d="M824.4 124.5C820.1 124.6 806.2 123.7 798.4 125.0C790.6 126.3 780.0 130.2 777.4 132.5C774.8 134.8 780.0 137.0 782.9 139.0C785.8 141.0 792.4 141.6 794.9 144.5C797.4 147.4 795.6 154.3 797.9 156.5C800.2 158.7 806.2 159.6 808.9 157.5C811.6 155.4 811.3 148.2 813.9 144.0C816.5 139.8 822.6 135.2 824.4 132.0C826.1 128.8 824.4 125.8 824.4 124.5" fill="none" stroke="#9b9b9b" stroke-width="5.0" stroke-linecap="round" stroke-linejoin="round" filter="url(#b2)"/>
<path d="M846.4 125.5C849.2 124.2 858.6 123.5 864.4 124.0C870.2 124.5 877.1 126.2 881.4 128.5C885.7 130.8 889.1 134.6 890.4 138.0C891.7 141.4 891.8 146.4 889.4 149.0C887.0 151.6 879.6 151.8 875.9 153.5C872.1 155.2 869.3 159.1 866.9 159.0C864.5 158.9 863.3 156.3 861.4 153.0C859.5 149.7 857.7 142.5 855.4 139.0C853.1 135.5 848.9 134.2 847.4 132.0C845.9 129.8 843.6 126.8 846.4 125.5Z" fill="#9b9b9b" filter="url(#b2)"/>
<path d="M846.4 125.5C849.4 125.2 858.6 123.5 864.4 124.0C870.2 124.5 877.1 126.2 881.4 128.5C885.7 130.8 889.1 134.6 890.4 138.0C891.7 141.4 891.8 146.4 889.4 149.0C887.0 151.6 879.6 151.8 875.9 153.5C872.1 155.2 869.3 159.1 866.9 159.0C864.5 158.9 863.3 156.3 861.4 153.0C859.5 149.7 857.7 142.5 855.4 139.0C853.1 135.5 848.9 134.2 847.4 132.0C845.9 129.8 846.6 126.6 846.4 125.5" fill="none" stroke="#9b9b9b" stroke-width="5.0" stroke-linecap="round" stroke-linejoin="round" filter="url(#b2)"/>
<path d="M824.4 124.0C828.0 121.0 841.8 121.0 845.4 124.0C849.0 127.0 846.7 136.7 845.9 142.0C845.1 147.3 842.2 152.2 840.4 156.0C838.5 159.8 836.6 164.5 834.8 164.5C833.0 164.5 831.2 159.8 829.4 156.0C827.6 152.2 824.7 147.3 823.9 142.0C823.1 136.7 820.8 127.0 824.4 124.0Z" fill="#9b9b9b" filter="url(#b2_5)"/>
<g filter="url(#b2_5)"><ellipse cx="817.4" cy="158.0" rx="7.5" ry="21.0" fill="#303030"/></g>
<g filter="url(#b2_5)"><ellipse cx="852.4" cy="158.0" rx="7.5" ry="21.0" fill="#303030"/></g>
<g filter="url(#b1_5)"><ellipse cx="817.4" cy="161.0" rx="2.0" ry="11.0" fill="#171717"/></g>
<g filter="url(#b1_5)"><ellipse cx="852.4" cy="161.0" rx="2.0" ry="11.0" fill="#171717"/></g>
<path d="M824.4 124.5C820.1 123.3 806.2 123.7 798.4 125.0C790.6 126.3 780.0 130.2 777.4 132.5C774.8 134.8 780.0 137.0 782.9 139.0C785.8 141.0 792.4 141.6 794.9 144.5C797.4 147.4 795.6 154.3 797.9 156.5C800.2 158.7 806.2 159.6 808.9 157.5C811.6 155.4 811.3 148.2 813.9 144.0C816.5 139.8 822.6 135.2 824.4 132.0C826.1 128.8 828.7 125.7 824.4 124.5Z" fill="#c1c1c1" filter="url(#b2_2)"/>
<path d="M846.4 125.5C849.2 124.2 858.6 123.5 864.4 124.0C870.2 124.5 877.1 126.2 881.4 128.5C885.7 130.8 889.1 134.6 890.4 138.0C891.7 141.4 891.8 146.4 889.4 149.0C887.0 151.6 879.6 151.8 875.9 153.5C872.1 155.2 869.3 159.1 866.9 159.0C864.5 158.9 863.3 156.3 861.4 153.0C859.5 149.7 857.7 142.5 855.4 139.0C853.1 135.5 848.9 134.2 847.4 132.0C845.9 129.8 843.6 126.8 846.4 125.5Z" fill="#c1c1c1" filter="url(#b2_2)"/>
<g filter="url(#b2_5)"><ellipse cx="834.8" cy="142.0" rx="6.0" ry="12.0" fill="#afafaf"/></g>
<g filter="url(#b1_6)"><ellipse cx="834.8" cy="137.0" rx="7.8" ry="7.0" fill="#cfcfcf"/></g>
<g filter="url(#b1_2)"><ellipse cx="834.8" cy="136.4" rx="5.0" ry="4.2" fill="#e3e3e3"/></g>
<g filter="url(#b0_8)"><ellipse cx="834.8" cy="136.1" rx="3.4" ry="2.7" fill="#efefef"/></g>
<path d="M648.4 188.5C651.7 187.5 662.1 184.0 668.4 182.5C674.7 181.0 680.1 181.2 686.4 179.4C692.7 177.7 699.7 174.1 706.4 172.0C713.1 169.9 720.7 167.5 726.4 167.0C732.1 166.5 736.2 167.7 740.4 169.0C744.6 170.3 746.4 173.0 751.4 175.0C756.4 177.0 763.9 179.1 770.4 181.0C776.9 182.9 787.1 185.7 790.4 186.6" fill="none" stroke="#9b9b9b" stroke-width="15.5" stroke-linecap="round" stroke-linejoin="round" filter="url(#b2_5)"/>
<path d="M630.4 199.0C633.4 197.2 642.1 191.2 648.4 188.5C654.7 185.8 665.1 183.5 668.4 182.5" fill="none" stroke="#999999" stroke-width="8.0" stroke-linecap="round" stroke-linejoin="round" filter="url(#b2_5)"/>
<path d="M770.4 181.0C773.7 181.9 784.4 184.4 790.4 186.6C796.4 188.8 803.7 192.8 806.4 194.0" fill="none" stroke="#999999" stroke-width="8.0" stroke-linecap="round" stroke-linejoin="round" filter="url(#b2_5)"/>
<path d="M806.4 194.0C808.7 194.9 815.9 197.9 820.4 199.5C824.9 201.1 831.2 202.8 833.4 203.5" fill="none" stroke="#979797" stroke-width="5.0" stroke-linecap="round" stroke-linejoin="round" filter="url(#b2)"/>
<path d="M630.4 199.0C629.4 199.7 625.4 202.3 624.4 203.0" fill="none" stroke="#909090" stroke-width="7.0" stroke-linecap="round" stroke-linejoin="round" filter="url(#b2_5)"/>
<path d="M648.4 188.5C651.7 187.5 662.1 184.0 668.4 182.5C674.7 181.0 680.1 181.2 686.4 179.4C692.7 177.7 699.7 174.1 706.4 172.0C713.1 169.9 720.7 167.5 726.4 167.0C732.1 166.5 736.2 167.7 740.4 169.0C744.6 170.3 746.4 173.0 751.4 175.0C756.4 177.0 763.9 179.1 770.4 181.0C776.9 182.9 787.1 185.7 790.4 186.6" fill="none" stroke="#bdbdbd" stroke-width="8.5" stroke-linecap="round" stroke-linejoin="round" filter="url(#b2_2)"/>
<path d="M662.4 184.0C664.7 183.5 671.4 182.0 676.4 181.0C681.4 180.0 687.1 179.6 692.4 178.0C697.7 176.4 703.1 173.2 708.4 171.5C713.7 169.8 721.7 168.2 724.4 167.5" fill="none" stroke="#cacaca" stroke-width="4.5" stroke-linecap="round" stroke-linejoin="round" filter="url(#b2)"/>
<path d="M744.4 172.0C746.1 172.7 750.4 174.6 754.4 176.0C758.4 177.4 763.4 179.0 768.4 180.5C773.4 182.0 781.7 184.2 784.4 185.0" fill="none" stroke="#cacaca" stroke-width="4.5" stroke-linecap="round" stroke-linejoin="round" filter="url(#b2)"/>
<g filter="url(#b1_8)"><ellipse cx="686.4" cy="179.6" rx="7.0" ry="4.5" fill="#d2d2d2"/></g>
<g filter="url(#b1_8)"><ellipse cx="751.4" cy="175.0" rx="7.0" ry="4.5" fill="#d2d2d2"/></g>
<g filter="url(#b1_8)"><ellipse cx="706.4" cy="172.3" rx="6.0" ry="3.0" fill="#cecece"/></g>
<g filter="url(#b1_8)"><ellipse cx="770.4" cy="181.0" rx="6.0" ry="3.5" fill="#cecece"/></g>
<g filter="url(#b1_2)"><ellipse cx="686.4" cy="179.8" rx="3.2" ry="2.2" fill="#dbdbdb"/></g>
<g filter="url(#b1_2)"><ellipse cx="751.4" cy="175.2" rx="3.2" ry="2.2" fill="#dbdbdb"/></g>
<rect x="528.4" y="58.0" width="390.6" height="62" fill="url(#band1)"/>
</g></g>
<g stroke="#0d0d0d" stroke-width="1.3" fill="none">
<path d="M557.9 60.0H889.0"/>
<path d="M558.3 60.0V406.0"/>
<path d="M557.9 405.8H889.0" stroke-width="1"/>
<path d="M888.6 60.0V406.0" stroke-width="1"/>
<path d="M592.7 60.0V54.7"/>
<path d="M665.2 60.0V54.7"/>
<path d="M737.6 60.0V54.7"/>
<path d="M810.1 60.0V54.7"/>
<path d="M882.5 60.0V54.7"/>
<path d="M558.4 60.0H552.8"/>
<path d="M558.4 129.1H552.8"/>
<path d="M558.4 198.2H552.8"/>
<path d="M558.4 267.4H552.8"/>
<path d="M558.4 336.5H552.8"/>
<path d="M558.4 405.6H552.8"/>
</g>
<g font-family="Liberation Serif, serif" font-size="23.2" fill="#231f20">
<text x="593.4" y="50.6" text-anchor="middle">10</text>
<text x="665.9" y="50.6" text-anchor="middle">30</text>
<text x="738.3" y="50.6" text-anchor="middle">50</text>
<text x="810.8" y="50.6" text-anchor="middle">70</text>
<text x="883.2" y="50.6" text-anchor="middle">90</text>
<text x="549.6" y="67.7" text-anchor="end">0</text>
<text x="549.6" y="136.8" text-anchor="end">20</text>
<text x="549.6" y="205.9" text-anchor="end">40</text>
<text x="549.6" y="275.1" text-anchor="end">60</text>
<text x="549.6" y="344.2" text-anchor="end">80</text>
<text x="549.6" y="413.3" text-anchor="end">100</text>
<text transform="translate(516.4 239.5) rotate(-90)" text-anchor="middle" font-size="22.6"><tspan font-style="italic">t</tspan>/ns</text>
<text x="894.3" y="156.3" font-style="italic">A</text>
<text x="913.3" y="197.4">0.05</text>
<text x="913.3" y="245.4">0.04</text>
<text x="913.3" y="293.5">0.03</text>
<text x="913.3" y="341.6">0.02</text>
<text x="913.3" y="389.6">0.01</text>
</g>
<rect x="894.0" y="163.6" width="12.7" height="241.8" fill="url(#cb1)"/>
<g stroke="#231f20" stroke-width="1" fill="none">
<path d="M894.2 163.6V405.4M906.5 163.6V405.4" stroke="#0d0d0d" stroke-opacity="0.9" stroke-width="1"/>
<path d="M906.7 189.4h4.8"/>
<path d="M906.7 237.4h4.8"/>
<path d="M906.7 285.5h4.8"/>
<path d="M906.7 333.6h4.8"/>
<path d="M906.7 381.6h4.8"/>
</g>
<text x="695.8" y="23.6" font-family='"Liberation Serif","Noto Serif CJK SC",serif' font-size="22" letter-spacing="0.3" fill="#231f20">道数</text>
<clipPath id="cp2"><rect x="1026.0" y="60.0" width="331.0" height="346.0"/></clipPath>
<g clip-path="url(#cp2)"><g filter="url(#jet)">
<rect x="996.0" y="30.0" width="391.0" height="406.0" fill="url(#base2)"/>
<g filter="url(#b7)"><ellipse cx="1068.0" cy="166.0" rx="56.0" ry="26.0" fill="#757575"/></g>
<g filter="url(#b7)"><ellipse cx="1314.0" cy="166.0" rx="54.0" ry="26.0" fill="#757575"/></g>
<g filter="url(#b6)"><ellipse cx="1191.0" cy="196.0" rx="92.0" ry="15.0" fill="#727272"/></g>
<g filter="url(#b10)" opacity="0.90"><ellipse cx="1191.0" cy="222.0" rx="120.0" ry="26.0" fill="#434343"/></g>
<g filter="url(#b10)" opacity="0.90"><ellipse cx="1191.0" cy="250.0" rx="75.0" ry="35.0" fill="#393939"/></g>
<g filter="url(#b2_5)" opacity="0.90"><ellipse cx="1176.4" cy="263.4" rx="10.1" ry="3.5" fill="#454545" transform="rotate(-3.43499 1176.4 263.4)"/></g>
<g filter="url(#b2_5)" opacity="0.90"><ellipse cx="1194.6" cy="272.1" rx="8.4" ry="2.7" fill="#585858" transform="rotate(-40.5877 1194.6 272.1)"/></g>
<g filter="url(#b2_5)" opacity="0.90"><ellipse cx="1250.2" cy="199.2" rx="11.2" ry="3.5" fill="#595959" transform="rotate(46.4758 1250.2 199.2)"/></g>
<g filter="url(#b2_5)" opacity="0.90"><ellipse cx="1056.2" cy="217.6" rx="9.7" ry="3.2" fill="#747474" transform="rotate(61.805 1056.2 217.6)"/></g>
<g filter="url(#b2_5)" opacity="0.90"><ellipse cx="1196.9" cy="273.4" rx="9.7" ry="3.0" fill="#5d5d5d" transform="rotate(99.747 1196.9 273.4)"/></g>
<g filter="url(#b2_5)" opacity="0.90"><ellipse cx="1254.6" cy="233.1" rx="6.6" ry="3.8" fill="#5b5b5b" transform="rotate(77.3424 1254.6 233.1)"/></g>
<g filter="url(#b2_5)" opacity="0.90"><ellipse cx="1297.1" cy="241.9" rx="6.0" ry="2.9" fill="#6c6c6c" transform="rotate(34.731 1297.1 241.9)"/></g>
<g filter="url(#b2_5)" opacity="0.90"><ellipse cx="1181.8" cy="315.6" rx="11.0" ry="3.8" fill="#2e2e2e" transform="rotate(64.3823 1181.8 315.6)"/></g>
<g filter="url(#b2_5)" opacity="0.90"><ellipse cx="1064.7" cy="235.2" rx="6.9" ry="2.9" fill="#4b4b4b" transform="rotate(25.8041 1064.7 235.2)"/></g>
<g filter="url(#b2_5)" opacity="0.90"><ellipse cx="1092.4" cy="263.4" rx="11.9" ry="2.7" fill="#575757" transform="rotate(71.4411 1092.4 263.4)"/></g>
<g filter="url(#b2_5)" opacity="0.90"><ellipse cx="1073.7" cy="246.2" rx="13.8" ry="3.9" fill="#525252" transform="rotate(76.1877 1073.7 246.2)"/></g>
<g filter="url(#b2_5)" opacity="0.90"><ellipse cx="1308.8" cy="220.1" rx="11.1" ry="2.7" fill="#797979" transform="rotate(111.263 1308.8 220.1)"/></g>
<g filter="url(#b2_5)" opacity="0.90"><ellipse cx="1103.3" cy="226.0" rx="8.4" ry="2.6" fill="#4e4e4e" transform="rotate(-17.1045 1103.3 226.0)"/></g>
<g filter="url(#b2_5)" opacity="0.90"><ellipse cx="1216.3" cy="224.1" rx="9.6" ry="4.1" fill="#626262" transform="rotate(-12.8296 1216.3 224.1)"/></g>
<g filter="url(#b2_5)" opacity="0.90"><ellipse cx="1213.8" cy="301.4" rx="13.3" ry="3.9" fill="#333333" transform="rotate(69.2481 1213.8 301.4)"/></g>
<g filter="url(#b2_5)" opacity="0.90"><ellipse cx="1325.8" cy="218.4" rx="10.8" ry="3.2" fill="#515151" transform="rotate(38.219 1325.8 218.4)"/></g>
<g filter="url(#b2_5)" opacity="0.90"><ellipse cx="1111.0" cy="281.4" rx="10.8" ry="3.0" fill="#3d3d3d" transform="rotate(109.423 1111.0 281.4)"/></g>
<g filter="url(#b2_5)" opacity="0.90"><ellipse cx="1258.4" cy="202.5" rx="12.8" ry="3.5" fill="#5f5f5f" transform="rotate(93.562 1258.4 202.5)"/></g>
<g filter="url(#b2_5)" opacity="0.90"><ellipse cx="1318.7" cy="219.3" rx="9.6" ry="2.6" fill="#555555" transform="rotate(76.1516 1318.7 219.3)"/></g>
<g filter="url(#b2_5)" opacity="0.90"><ellipse cx="1150.8" cy="264.9" rx="13.1" ry="4.2" fill="#575757" transform="rotate(81.7287 1150.8 264.9)"/></g>
<g filter="url(#b2_5)" opacity="0.90"><ellipse cx="1249.5" cy="266.5" rx="6.1" ry="4.0" fill="#585858" transform="rotate(62.1048 1249.5 266.5)"/></g>
<g filter="url(#b2_5)" opacity="0.90"><ellipse cx="1332.6" cy="196.6" rx="11.8" ry="3.0" fill="#838383" transform="rotate(-1.77643 1332.6 196.6)"/></g>
<g filter="url(#b2_5)" opacity="0.90"><ellipse cx="1263.5" cy="281.3" rx="8.8" ry="3.7" fill="#555555" transform="rotate(41.5003 1263.5 281.3)"/></g>
<g filter="url(#b2_5)" opacity="0.90"><ellipse cx="1304.6" cy="245.7" rx="10.6" ry="3.6" fill="#555555" transform="rotate(36.3473 1304.6 245.7)"/></g>
<g filter="url(#b2_5)" opacity="0.90"><ellipse cx="1216.3" cy="269.5" rx="13.9" ry="4.0" fill="#575757" transform="rotate(98.3643 1216.3 269.5)"/></g>
<g filter="url(#b2_5)" opacity="0.90"><ellipse cx="1156.9" cy="285.1" rx="12.7" ry="2.6" fill="#4e4e4e" transform="rotate(86.4313 1156.9 285.1)"/></g>
<g filter="url(#b2_5)" opacity="0.90"><ellipse cx="1185.2" cy="222.5" rx="10.9" ry="4.1" fill="#585858" transform="rotate(-0.274942 1185.2 222.5)"/></g>
<g filter="url(#b2_5)" opacity="0.90"><ellipse cx="1245.5" cy="219.1" rx="11.3" ry="3.3" fill="#767676" transform="rotate(114.343 1245.5 219.1)"/></g>
<g filter="url(#b2_5)" opacity="0.90"><ellipse cx="1138.0" cy="276.6" rx="12.4" ry="4.1" fill="#575757" transform="rotate(85.8537 1138.0 276.6)"/></g>
<g filter="url(#b2_5)" opacity="0.90"><ellipse cx="1155.6" cy="266.3" rx="10.0" ry="3.9" fill="#5d5d5d" transform="rotate(68.1706 1155.6 266.3)"/></g>
<g filter="url(#b2_5)" opacity="0.90"><ellipse cx="1122.7" cy="215.0" rx="7.7" ry="3.2" fill="#6c6c6c" transform="rotate(76.5098 1122.7 215.0)"/></g>
<g filter="url(#b2_5)" opacity="0.90"><ellipse cx="1189.1" cy="233.1" rx="9.6" ry="2.6" fill="#484848" transform="rotate(48.2037 1189.1 233.1)"/></g>
<g filter="url(#b2_5)" opacity="0.90"><ellipse cx="1305.1" cy="199.1" rx="8.5" ry="3.8" fill="#515151" transform="rotate(7.0582 1305.1 199.1)"/></g>
<g filter="url(#b2_5)" opacity="0.90"><ellipse cx="1079.6" cy="250.4" rx="7.9" ry="2.7" fill="#434343" transform="rotate(109.78 1079.6 250.4)"/></g>
<g filter="url(#b2_5)" opacity="0.90"><ellipse cx="1230.5" cy="249.4" rx="12.5" ry="4.1" fill="#606060" transform="rotate(15.5043 1230.5 249.4)"/></g>
<g filter="url(#b2_5)" opacity="0.90"><ellipse cx="1099.0" cy="252.9" rx="9.8" ry="3.7" fill="#494949" transform="rotate(60.646 1099.0 252.9)"/></g>
<g filter="url(#b2_5)" opacity="0.90"><ellipse cx="1121.3" cy="236.9" rx="10.9" ry="3.8" fill="#595959" transform="rotate(2.04229 1121.3 236.9)"/></g>
<g filter="url(#b2_5)" opacity="0.90"><ellipse cx="1259.0" cy="210.1" rx="13.3" ry="3.1" fill="#6b6b6b" transform="rotate(97.5329 1259.0 210.1)"/></g>
<g filter="url(#b2_5)" opacity="0.90"><ellipse cx="1237.3" cy="219.4" rx="11.1" ry="3.7" fill="#575757" transform="rotate(31.8346 1237.3 219.4)"/></g>
<g filter="url(#b2_5)" opacity="0.90"><ellipse cx="1280.0" cy="233.7" rx="8.8" ry="2.6" fill="#5d5d5d" transform="rotate(35.5783 1280.0 233.7)"/></g>
<g filter="url(#b2_5)" opacity="0.90"><ellipse cx="1206.4" cy="289.3" rx="12.5" ry="2.6" fill="#4c4c4c" transform="rotate(61.7046 1206.4 289.3)"/></g>
<g filter="url(#b2_5)" opacity="0.90"><ellipse cx="1090.9" cy="235.5" rx="7.2" ry="3.4" fill="#686868" transform="rotate(-35.95 1090.9 235.5)"/></g>
<g filter="url(#b2_5)" opacity="0.90"><ellipse cx="1328.4" cy="204.7" rx="8.3" ry="3.7" fill="#717171" transform="rotate(91.5998 1328.4 204.7)"/></g>
<g filter="url(#b2_5)" opacity="0.90"><ellipse cx="1198.0" cy="298.6" rx="9.0" ry="3.9" fill="#474747" transform="rotate(78.7019 1198.0 298.6)"/></g>
<g filter="url(#b2_5)" opacity="0.90"><ellipse cx="1213.3" cy="218.9" rx="10.8" ry="2.5" fill="#797979" transform="rotate(90.1904 1213.3 218.9)"/></g>
<g filter="url(#b2_5)" opacity="0.90"><ellipse cx="1195.9" cy="243.7" rx="9.9" ry="3.7" fill="#474747" transform="rotate(6.28667 1195.9 243.7)"/></g>
<g filter="url(#b2_5)" opacity="0.90"><ellipse cx="1202.8" cy="245.3" rx="8.2" ry="3.3" fill="#494949" transform="rotate(42.3419 1202.8 245.3)"/></g>
<g filter="url(#b2_5)" opacity="0.90"><ellipse cx="1170.7" cy="295.1" rx="8.5" ry="2.8" fill="#424242" transform="rotate(-2.34673 1170.7 295.1)"/></g>
<g filter="url(#b2_5)" opacity="0.90"><ellipse cx="1321.1" cy="210.1" rx="7.6" ry="2.9" fill="#717171" transform="rotate(-47.7214 1321.1 210.1)"/></g>
<g filter="url(#b2_5)" opacity="0.90"><ellipse cx="1136.6" cy="238.1" rx="11.8" ry="2.7" fill="#5e5e5e" transform="rotate(-39.5114 1136.6 238.1)"/></g>
<g filter="url(#b2_5)" opacity="0.90"><ellipse cx="1114.7" cy="218.5" rx="9.0" ry="3.2" fill="#676767" transform="rotate(86.2066 1114.7 218.5)"/></g>
<g filter="url(#b2_5)" opacity="0.90"><ellipse cx="1086.9" cy="219.3" rx="10.2" ry="3.9" fill="#6a6a6a" transform="rotate(13.8467 1086.9 219.3)"/></g>
<g filter="url(#b2_5)" opacity="0.90"><ellipse cx="1300.2" cy="222.8" rx="13.2" ry="3.0" fill="#5b5b5b" transform="rotate(31.0508 1300.2 222.8)"/></g>
<g filter="url(#b2_5)" opacity="0.90"><ellipse cx="1320.4" cy="221.0" rx="7.1" ry="2.9" fill="#6e6e6e" transform="rotate(38.7542 1320.4 221.0)"/></g>
<g filter="url(#b2_5)" opacity="0.90"><ellipse cx="1117.4" cy="206.0" rx="12.3" ry="2.7" fill="#656565" transform="rotate(-7.83694 1117.4 206.0)"/></g>
<g filter="url(#b2_5)" opacity="0.90"><ellipse cx="1247.7" cy="196.2" rx="13.3" ry="4.1" fill="#585858" transform="rotate(100.943 1247.7 196.2)"/></g>
<g filter="url(#b2_5)" opacity="0.90"><ellipse cx="1192.7" cy="288.0" rx="7.5" ry="2.6" fill="#363636" transform="rotate(101.141 1192.7 288.0)"/></g>
<g filter="url(#b2_5)" opacity="0.90"><ellipse cx="1195.5" cy="264.5" rx="7.6" ry="3.9" fill="#626262" transform="rotate(71.0722 1195.5 264.5)"/></g>
<g filter="url(#b2_5)" opacity="0.90"><ellipse cx="1321.6" cy="205.8" rx="9.7" ry="3.8" fill="#616161" transform="rotate(117.09 1321.6 205.8)"/></g>
<g filter="url(#b2_5)" opacity="0.90"><ellipse cx="1180.9" cy="257.9" rx="6.1" ry="3.7" fill="#616161" transform="rotate(96.0558 1180.9 257.9)"/></g>
<g filter="url(#b2_5)" opacity="0.90"><ellipse cx="1093.5" cy="250.3" rx="7.6" ry="2.8" fill="#595959" transform="rotate(-9.46979 1093.5 250.3)"/></g>
<g filter="url(#b2_5)" opacity="0.90"><ellipse cx="1283.3" cy="281.4" rx="9.2" ry="3.5" fill="#484848" transform="rotate(12.9386 1283.3 281.4)"/></g>
<g filter="url(#b2_5)" opacity="0.90"><ellipse cx="1265.8" cy="290.5" rx="13.2" ry="4.0" fill="#484848" transform="rotate(-9.43633 1265.8 290.5)"/></g>
<g filter="url(#b2_5)" opacity="0.90"><ellipse cx="1272.8" cy="288.9" rx="6.6" ry="3.1" fill="#434343" transform="rotate(103.358 1272.8 288.9)"/></g>
<g filter="url(#b2_5)" opacity="0.90"><ellipse cx="1233.4" cy="271.4" rx="11.3" ry="3.1" fill="#545454" transform="rotate(116.681 1233.4 271.4)"/></g>
<g filter="url(#b1_8)" opacity="0.85"><ellipse cx="1213.8" cy="238.0" rx="2.7" ry="7.0" fill="#141414" transform="rotate(11.3812 1213.8 238.0)"/></g>
<g filter="url(#b1_8)" opacity="0.85"><ellipse cx="1256.1" cy="275.7" rx="4.0" ry="2.6" fill="#141414" transform="rotate(9.23171 1256.1 275.7)"/></g>
<g filter="url(#b1_8)" opacity="0.85"><ellipse cx="1268.2" cy="192.3" rx="2.7" ry="2.7" fill="#141414" transform="rotate(-24.3643 1268.2 192.3)"/></g>
<g filter="url(#b1_8)" opacity="0.85"><ellipse cx="1151.6" cy="166.2" rx="2.4" ry="6.6" fill="#141414" transform="rotate(4.00462 1151.6 166.2)"/></g>
<g filter="url(#b1_8)" opacity="0.85"><ellipse cx="1194.0" cy="309.6" rx="3.0" ry="7.0" fill="#141414" transform="rotate(11.041 1194.0 309.6)"/></g>
<g filter="url(#b1_8)" opacity="0.85"><ellipse cx="1290.9" cy="162.6" rx="3.1" ry="5.9" fill="#141414" transform="rotate(-36.3909 1290.9 162.6)"/></g>
<g filter="url(#b1_8)" opacity="0.85"><ellipse cx="1329.6" cy="176.4" rx="2.8" ry="3.3" fill="#141414" transform="rotate(-0.358328 1329.6 176.4)"/></g>
<g filter="url(#b1_8)" opacity="0.85"><ellipse cx="1227.2" cy="159.7" rx="3.9" ry="4.4" fill="#141414" transform="rotate(2.14066 1227.2 159.7)"/></g>
<g filter="url(#b1_8)" opacity="0.85"><ellipse cx="1222.9" cy="210.3" rx="2.4" ry="5.4" fill="#141414" transform="rotate(4.85154 1222.9 210.3)"/></g>
<g filter="url(#b1_8)" opacity="0.85"><ellipse cx="1122.0" cy="268.2" rx="2.5" ry="2.6" fill="#141414" transform="rotate(-20.3982 1122.0 268.2)"/></g>
<g filter="url(#b1_8)" opacity="0.85"><ellipse cx="1044.7" cy="175.8" rx="3.5" ry="4.3" fill="#141414" transform="rotate(31.8034 1044.7 175.8)"/></g>
<g filter="url(#b1_8)" opacity="0.85"><ellipse cx="1271.2" cy="158.3" rx="4.0" ry="6.8" fill="#141414" transform="rotate(-34.1197 1271.2 158.3)"/></g>
<g filter="url(#b1_8)" opacity="0.85"><ellipse cx="1321.7" cy="220.9" rx="2.9" ry="6.9" fill="#141414" transform="rotate(-20.5033 1321.7 220.9)"/></g>
<g filter="url(#b1_8)" opacity="0.85"><ellipse cx="1199.0" cy="304.6" rx="3.4" ry="4.6" fill="#141414" transform="rotate(38.3057 1199.0 304.6)"/></g>
<g filter="url(#b1_8)" opacity="0.85"><ellipse cx="1293.2" cy="249.6" rx="2.1" ry="5.3" fill="#141414" transform="rotate(-3.54491 1293.2 249.6)"/></g>
<g filter="url(#b1_8)" opacity="0.85"><ellipse cx="1096.4" cy="158.6" rx="3.0" ry="3.1" fill="#141414" transform="rotate(-4.57087 1096.4 158.6)"/></g>
<g filter="url(#b1_8)" opacity="0.85"><ellipse cx="1245.4" cy="225.2" rx="2.4" ry="5.1" fill="#141414" transform="rotate(-6.43745 1245.4 225.2)"/></g>
<g filter="url(#b1_8)" opacity="0.85"><ellipse cx="1280.7" cy="237.6" rx="4.0" ry="6.8" fill="#141414" transform="rotate(18.7428 1280.7 237.6)"/></g>
<g filter="url(#b1_8)" opacity="0.85"><ellipse cx="1107.5" cy="168.8" rx="3.8" ry="6.0" fill="#141414" transform="rotate(9.99811 1107.5 168.8)"/></g>
<g filter="url(#b1_8)" opacity="0.85"><ellipse cx="1146.3" cy="194.8" rx="3.3" ry="5.0" fill="#141414" transform="rotate(7.33401 1146.3 194.8)"/></g>
<g filter="url(#b1_8)" opacity="0.85"><ellipse cx="1234.2" cy="274.3" rx="2.2" ry="3.6" fill="#141414" transform="rotate(38.3777 1234.2 274.3)"/></g>
<g filter="url(#b1_8)" opacity="0.85"><ellipse cx="1324.9" cy="295.0" rx="1.9" ry="2.8" fill="#141414" transform="rotate(-18.3248 1324.9 295.0)"/></g>
<g filter="url(#b1_8)" opacity="0.85"><ellipse cx="1167.5" cy="252.9" rx="2.0" ry="4.9" fill="#141414" transform="rotate(-34.2006 1167.5 252.9)"/></g>
<g filter="url(#b1_8)" opacity="0.85"><ellipse cx="1058.7" cy="261.6" rx="3.0" ry="5.3" fill="#141414" transform="rotate(-10.1453 1058.7 261.6)"/></g>
<g filter="url(#b1_8)" opacity="0.85"><ellipse cx="1184.6" cy="184.8" rx="2.6" ry="5.9" fill="#141414" transform="rotate(27.0843 1184.6 184.8)"/></g>
<g filter="url(#b1_8)" opacity="0.85"><ellipse cx="1054.9" cy="169.8" rx="3.6" ry="5.3" fill="#141414" transform="rotate(21.5001 1054.9 169.8)"/></g>
<g filter="url(#b1_8)" opacity="0.85"><ellipse cx="1099.4" cy="220.0" rx="2.4" ry="6.1" fill="#141414" transform="rotate(-10.484 1099.4 220.0)"/></g>
<g filter="url(#b1_8)" opacity="0.85"><ellipse cx="1240.8" cy="313.2" rx="2.5" ry="5.0" fill="#141414" transform="rotate(19.6884 1240.8 313.2)"/></g>
<g filter="url(#b1_8)" opacity="0.85"><ellipse cx="1326.6" cy="220.6" rx="2.6" ry="2.9" fill="#141414" transform="rotate(30.0143 1326.6 220.6)"/></g>
<g filter="url(#b1_8)" opacity="0.85"><ellipse cx="1056.2" cy="163.7" rx="3.0" ry="4.7" fill="#141414" transform="rotate(14.8262 1056.2 163.7)"/></g>
<g filter="url(#b1_8)" opacity="0.85"><ellipse cx="1126.9" cy="278.0" rx="2.0" ry="3.5" fill="#141414" transform="rotate(12.9679 1126.9 278.0)"/></g>
<g filter="url(#b1_8)" opacity="0.85"><ellipse cx="1057.2" cy="200.1" rx="3.4" ry="5.6" fill="#141414" transform="rotate(-17.3668 1057.2 200.1)"/></g>
<g filter="url(#b1_8)" opacity="0.85"><ellipse cx="1076.9" cy="209.0" rx="3.4" ry="4.1" fill="#141414" transform="rotate(-30.6094 1076.9 209.0)"/></g>
<g filter="url(#b1_8)" opacity="0.85"><ellipse cx="1258.7" cy="243.9" rx="3.8" ry="6.7" fill="#141414" transform="rotate(33.07 1258.7 243.9)"/></g>
<g filter="url(#b1_8)" opacity="0.85"><ellipse cx="1171.6" cy="282.5" rx="2.5" ry="3.9" fill="#141414" transform="rotate(-8.03266 1171.6 282.5)"/></g>
<g filter="url(#b1_8)" opacity="0.85"><ellipse cx="1331.0" cy="297.6" rx="2.3" ry="4.1" fill="#141414" transform="rotate(-10.7549 1331.0 297.6)"/></g>
<g filter="url(#b1_8)" opacity="0.85"><ellipse cx="1147.6" cy="215.3" rx="2.7" ry="3.4" fill="#141414" transform="rotate(5.10438 1147.6 215.3)"/></g>
<g filter="url(#b1_8)" opacity="0.85"><ellipse cx="1286.9" cy="239.2" rx="3.6" ry="5.0" fill="#141414" transform="rotate(-25.8726 1286.9 239.2)"/></g>
<g filter="url(#b1_8)" opacity="0.85"><ellipse cx="1274.6" cy="295.3" rx="2.4" ry="2.6" fill="#141414" transform="rotate(1.2513 1274.6 295.3)"/></g>
<g filter="url(#b1_8)" opacity="0.85"><ellipse cx="1205.7" cy="243.6" rx="3.9" ry="5.4" fill="#141414" transform="rotate(24.3455 1205.7 243.6)"/></g>
<g filter="url(#b1_8)" opacity="0.85"><ellipse cx="1051.6" cy="240.2" rx="3.5" ry="2.9" fill="#141414" transform="rotate(-33.4662 1051.6 240.2)"/></g>
<g filter="url(#b1_8)" opacity="0.85"><ellipse cx="1267.6" cy="298.3" rx="2.0" ry="5.4" fill="#141414" transform="rotate(-28.4898 1267.6 298.3)"/></g>
<g filter="url(#b1_8)" opacity="0.85"><ellipse cx="1270.4" cy="257.1" rx="2.3" ry="3.5" fill="#141414" transform="rotate(21.2282 1270.4 257.1)"/></g>
<g filter="url(#b1_8)" opacity="0.85"><ellipse cx="1198.4" cy="276.2" rx="2.7" ry="4.0" fill="#141414" transform="rotate(37.4617 1198.4 276.2)"/></g>
<g filter="url(#b1_8)" opacity="0.85"><ellipse cx="1246.8" cy="231.5" rx="3.0" ry="5.7" fill="#141414" transform="rotate(16.6513 1246.8 231.5)"/></g>
<g filter="url(#b1_8)" opacity="0.85"><ellipse cx="1324.7" cy="217.7" rx="3.6" ry="5.5" fill="#141414" transform="rotate(28.2803 1324.7 217.7)"/></g>
<g filter="url(#b1_8)" opacity="0.85"><ellipse cx="1289.7" cy="287.6" rx="3.8" ry="6.8" fill="#141414" transform="rotate(11.2219 1289.7 287.6)"/></g>
<g filter="url(#b1_8)" opacity="0.85"><ellipse cx="1199.2" cy="267.2" rx="3.6" ry="4.4" fill="#141414" transform="rotate(-6.36347 1199.2 267.2)"/></g>
<g filter="url(#b1_8)" opacity="0.85"><ellipse cx="1077.9" cy="272.3" rx="4.0" ry="4.2" fill="#141414" transform="rotate(-26.5876 1077.9 272.3)"/></g>
<g filter="url(#b1_8)" opacity="0.85"><ellipse cx="1096.6" cy="220.1" rx="2.4" ry="6.9" fill="#141414" transform="rotate(-35.2634 1096.6 220.1)"/></g>
<g filter="url(#b1_8)" opacity="0.85"><ellipse cx="1130.0" cy="168.9" rx="3.2" ry="6.0" fill="#141414" transform="rotate(-25.6454 1130.0 168.9)"/></g>
<g filter="url(#b1_8)" opacity="0.85"><ellipse cx="1051.0" cy="225.7" rx="3.1" ry="6.6" fill="#141414" transform="rotate(-37.09 1051.0 225.7)"/></g>
<g filter="url(#b1_8)" opacity="0.85"><ellipse cx="1065.9" cy="180.4" rx="2.3" ry="3.6" fill="#141414" transform="rotate(17.3795 1065.9 180.4)"/></g>
<g filter="url(#b1_8)" opacity="0.85"><ellipse cx="1221.9" cy="187.0" rx="2.2" ry="3.8" fill="#141414" transform="rotate(-26.1989 1221.9 187.0)"/></g>
<g filter="url(#b1_8)" opacity="0.85"><ellipse cx="1274.2" cy="201.4" rx="3.0" ry="6.2" fill="#141414" transform="rotate(-1.64071 1274.2 201.4)"/></g>
<g filter="url(#b1_8)" opacity="0.85"><ellipse cx="1114.6" cy="296.4" rx="3.8" ry="4.0" fill="#141414" transform="rotate(3.78795 1114.6 296.4)"/></g>
<g filter="url(#b1_8)" opacity="0.85"><ellipse cx="1338.2" cy="229.6" rx="2.3" ry="2.7" fill="#141414" transform="rotate(35.8016 1338.2 229.6)"/></g>
<g filter="url(#b1_8)" opacity="0.85"><ellipse cx="1288.3" cy="213.5" rx="3.0" ry="4.8" fill="#141414" transform="rotate(-18.036 1288.3 213.5)"/></g>
<g filter="url(#b1_8)" opacity="0.85"><ellipse cx="1348.9" cy="258.5" rx="2.3" ry="2.5" fill="#141414" transform="rotate(-2.18832 1348.9 258.5)"/></g>
<g filter="url(#b1_8)" opacity="0.85"><ellipse cx="1150.3" cy="281.5" rx="3.4" ry="5.2" fill="#141414" transform="rotate(-27.4168 1150.3 281.5)"/></g>
<g filter="url(#b1_8)" opacity="0.85"><ellipse cx="1081.4" cy="203.1" rx="2.4" ry="6.4" fill="#141414" transform="rotate(1.29003 1081.4 203.1)"/></g>
<g filter="url(#b1_8)" opacity="0.85"><ellipse cx="1235.5" cy="313.9" rx="2.4" ry="4.9" fill="#141414" transform="rotate(-27.9477 1235.5 313.9)"/></g>
<g filter="url(#b1_8)" opacity="0.85"><ellipse cx="1278.3" cy="150.2" rx="3.6" ry="6.3" fill="#141414" transform="rotate(25.7671 1278.3 150.2)"/></g>
<g filter="url(#b1_8)" opacity="0.85"><ellipse cx="1057.5" cy="194.5" rx="3.4" ry="2.9" fill="#141414" transform="rotate(-1.59183 1057.5 194.5)"/></g>
<g filter="url(#b1_8)" opacity="0.85"><ellipse cx="1181.4" cy="307.7" rx="3.1" ry="6.4" fill="#141414" transform="rotate(-15.7125 1181.4 307.7)"/></g>
<g filter="url(#b1_8)" opacity="0.85"><ellipse cx="1284.4" cy="218.8" rx="3.8" ry="2.9" fill="#141414" transform="rotate(26.1061 1284.4 218.8)"/></g>
<g filter="url(#b1_8)" opacity="0.85"><ellipse cx="1097.9" cy="239.7" rx="3.0" ry="3.2" fill="#141414" transform="rotate(26.5607 1097.9 239.7)"/></g>
<g filter="url(#b1_8)" opacity="0.85"><ellipse cx="1131.0" cy="201.3" rx="2.0" ry="3.9" fill="#141414" transform="rotate(-2.62189 1131.0 201.3)"/></g>
<g filter="url(#b1_8)" opacity="0.85"><ellipse cx="1260.6" cy="209.4" rx="3.3" ry="3.0" fill="#141414" transform="rotate(-8.46109 1260.6 209.4)"/></g>
<g filter="url(#b1_8)" opacity="0.85"><ellipse cx="1179.2" cy="309.5" rx="3.6" ry="5.4" fill="#141414" transform="rotate(-39.0121 1179.2 309.5)"/></g>
<g filter="url(#b1_8)" opacity="0.85"><ellipse cx="1152.1" cy="267.2" rx="2.3" ry="5.0" fill="#141414" transform="rotate(-3.35297 1152.1 267.2)"/></g>
<g filter="url(#b1_8)" opacity="0.85"><ellipse cx="1034.4" cy="313.6" rx="3.6" ry="3.4" fill="#141414" transform="rotate(9.28534 1034.4 313.6)"/></g>
<g filter="url(#b1_8)" opacity="0.85"><ellipse cx="1124.2" cy="212.0" rx="3.0" ry="3.8" fill="#141414" transform="rotate(-13.0088 1124.2 212.0)"/></g>
<g filter="url(#b1_8)" opacity="0.85"><ellipse cx="1156.9" cy="260.0" rx="2.4" ry="3.4" fill="#141414" transform="rotate(18.5155 1156.9 260.0)"/></g>
<g filter="url(#b1_8)" opacity="0.85"><ellipse cx="1136.7" cy="305.9" rx="3.0" ry="5.8" fill="#141414" transform="rotate(-13.4673 1136.7 305.9)"/></g>
<g filter="url(#b1_8)" opacity="0.85"><ellipse cx="1296.4" cy="165.2" rx="2.1" ry="2.9" fill="#141414" transform="rotate(14.2156 1296.4 165.2)"/></g>
<g filter="url(#b1_8)" opacity="0.85"><ellipse cx="1258.4" cy="179.7" rx="2.7" ry="6.3" fill="#141414" transform="rotate(7.41916 1258.4 179.7)"/></g>
<g filter="url(#b1_8)" opacity="0.85"><ellipse cx="1059.9" cy="187.4" rx="2.1" ry="3.1" fill="#141414" transform="rotate(-7.45271 1059.9 187.4)"/></g>
<g filter="url(#b1_8)" opacity="0.85"><ellipse cx="1054.3" cy="301.9" rx="2.7" ry="4.8" fill="#141414" transform="rotate(11.7798 1054.3 301.9)"/></g>
<g filter="url(#b1_8)" opacity="0.85"><ellipse cx="1277.2" cy="285.5" rx="2.6" ry="4.0" fill="#141414" transform="rotate(-7.02876 1277.2 285.5)"/></g>
<g filter="url(#b6)" opacity="0.70"><ellipse cx="1040.8" cy="340.1" rx="16.4" ry="11.9" fill="#292929"/></g>
<g filter="url(#b6)" opacity="0.70"><ellipse cx="1280.8" cy="366.0" rx="15.3" ry="5.1" fill="#292929"/></g>
<g filter="url(#b6)" opacity="0.70"><ellipse cx="1138.6" cy="334.2" rx="15.8" ry="5.7" fill="#292929"/></g>
<g filter="url(#b6)" opacity="0.70"><ellipse cx="1153.1" cy="350.9" rx="17.5" ry="10.8" fill="#292929"/></g>
<g filter="url(#b6)" opacity="0.70"><ellipse cx="1225.5" cy="315.8" rx="17.2" ry="11.3" fill="#292929"/></g>
<g filter="url(#b6)" opacity="0.70"><ellipse cx="1206.0" cy="335.3" rx="14.0" ry="6.0" fill="#292929"/></g>
<g filter="url(#b6)" opacity="0.70"><ellipse cx="1257.2" cy="398.7" rx="14.2" ry="10.0" fill="#292929"/></g>
<g filter="url(#b6)" opacity="0.70"><ellipse cx="1295.0" cy="319.7" rx="19.3" ry="9.4" fill="#292929"/></g>
<g filter="url(#b6)" opacity="0.70"><ellipse cx="1097.3" cy="308.3" rx="10.9" ry="9.0" fill="#292929"/></g>
<g filter="url(#b6)" opacity="0.70"><ellipse cx="1252.1" cy="332.9" rx="19.1" ry="7.5" fill="#292929"/></g>
<g filter="url(#b6)" opacity="0.70"><ellipse cx="1179.5" cy="312.4" rx="19.7" ry="5.9" fill="#292929"/></g>
<g filter="url(#b6)" opacity="0.70"><ellipse cx="1316.3" cy="354.3" rx="14.7" ry="8.9" fill="#292929"/></g>
<g filter="url(#b6)" opacity="0.70"><ellipse cx="1118.0" cy="390.9" rx="19.9" ry="10.7" fill="#292929"/></g>
<g filter="url(#b6)" opacity="0.70"><ellipse cx="1222.5" cy="312.3" rx="17.9" ry="7.0" fill="#292929"/></g>
<g filter="url(#b6)" opacity="0.70"><ellipse cx="1314.1" cy="324.1" rx="14.9" ry="10.8" fill="#292929"/></g>
<g filter="url(#b6)" opacity="0.70"><ellipse cx="1093.5" cy="354.8" rx="8.9" ry="5.2" fill="#292929"/></g>
<g filter="url(#b6)" opacity="0.70"><ellipse cx="1091.8" cy="398.7" rx="19.3" ry="9.6" fill="#292929"/></g>
<g filter="url(#b6)" opacity="0.70"><ellipse cx="1131.4" cy="367.1" rx="16.9" ry="7.7" fill="#292929"/></g>
<path d="M1152.0 126.0C1162.3 124.0 1211.7 124.0 1222.0 126.0C1232.3 128.0 1217.7 134.2 1214.0 138.0C1210.3 141.8 1204.7 145.8 1200.0 149.0C1195.3 152.2 1190.3 157.0 1186.0 157.0C1181.7 157.0 1178.3 152.2 1174.0 149.0C1169.7 145.8 1163.7 141.8 1160.0 138.0C1156.3 134.2 1141.7 128.0 1152.0 126.0Z" fill="#1e1e1e" filter="url(#b5)"/>
<g filter="url(#b6)"><ellipse cx="1038.0" cy="212.0" rx="16.0" ry="14.0" fill="#1c1c1c"/></g>
<g filter="url(#b6)"><ellipse cx="1344.0" cy="212.0" rx="14.0" ry="14.0" fill="#1c1c1c"/></g>
<path d="M1023.0 157.0C1023.3 155.3 1024.2 150.2 1025.0 147.0C1025.8 143.8 1027.5 139.5 1028.0 138.0" fill="none" stroke="#9b9b9b" stroke-width="9.0" stroke-linecap="round" stroke-linejoin="round" filter="url(#b2)"/>
<path d="M1054.0 127.0C1056.5 126.5 1064.2 124.3 1069.2 124.3C1074.2 124.3 1081.5 126.5 1084.0 127.0" fill="none" stroke="#9b9b9b" stroke-width="7.5" stroke-linecap="round" stroke-linejoin="round" filter="url(#b2)"/>
<path d="M1130.0 145.0C1132.3 145.8 1139.0 147.9 1144.0 150.0C1149.0 152.1 1157.3 156.2 1160.0 157.5" fill="none" stroke="#9b9b9b" stroke-width="11.0" stroke-linecap="round" stroke-linejoin="round" filter="url(#b2_5)"/>
<path d="M1057.0 124.0C1054.8 122.6 1048.2 123.2 1044.0 123.5C1039.8 123.8 1035.7 124.7 1032.0 125.5C1028.3 126.3 1023.7 125.6 1022.0 128.5C1020.3 131.4 1020.3 141.2 1022.0 143.0C1023.7 144.8 1028.5 141.0 1032.0 139.5C1035.5 138.0 1038.8 135.2 1043.0 134.0C1047.2 132.8 1054.7 133.7 1057.0 132.0C1059.3 130.3 1059.2 125.4 1057.0 124.0Z" fill="#9b9b9b" filter="url(#b2)"/>
<path d="M1057.0 124.0C1054.8 123.9 1048.2 123.2 1044.0 123.5C1039.8 123.8 1035.7 124.7 1032.0 125.5C1028.3 126.3 1023.7 125.6 1022.0 128.5C1020.3 131.4 1020.3 141.2 1022.0 143.0C1023.7 144.8 1028.5 141.0 1032.0 139.5C1035.5 138.0 1038.8 135.2 1043.0 134.0C1047.2 132.8 1054.7 133.7 1057.0 132.0C1059.3 130.3 1057.0 125.3 1057.0 124.0" fill="none" stroke="#9b9b9b" stroke-width="5.0" stroke-linecap="round" stroke-linejoin="round" filter="url(#b2)"/>
<path d="M1082.0 123.5C1084.3 121.9 1091.3 122.7 1096.0 123.0C1100.7 123.3 1105.7 124.2 1110.0 125.5C1114.3 126.8 1118.2 128.5 1122.0 130.5C1125.8 132.5 1130.0 135.1 1133.0 137.5C1136.0 139.9 1139.8 142.8 1140.0 145.0C1140.2 147.2 1136.5 149.4 1134.0 150.5C1131.5 151.6 1127.7 150.9 1125.0 151.5C1122.3 152.1 1120.3 154.4 1118.0 154.0C1115.7 153.6 1113.5 151.1 1111.0 149.0C1108.5 146.9 1106.0 143.8 1103.0 141.5C1100.0 139.2 1096.5 137.0 1093.0 135.5C1089.5 134.0 1083.8 134.5 1082.0 132.5C1080.2 130.5 1079.7 125.1 1082.0 123.5Z" fill="#9b9b9b" filter="url(#b2)"/>
<path d="M1082.0 123.5C1084.3 123.4 1091.3 122.7 1096.0 123.0C1100.7 123.3 1105.7 124.2 1110.0 125.5C1114.3 126.8 1118.2 128.5 1122.0 130.5C1125.8 132.5 1130.0 135.1 1133.0 137.5C1136.0 139.9 1139.8 142.8 1140.0 145.0C1140.2 147.2 1136.5 149.4 1134.0 150.5C1131.5 151.6 1127.7 150.9 1125.0 151.5C1122.3 152.1 1120.3 154.4 1118.0 154.0C1115.7 153.6 1113.5 151.1 1111.0 149.0C1108.5 146.9 1106.0 143.8 1103.0 141.5C1100.0 139.2 1096.5 137.0 1093.0 135.5C1089.5 134.0 1083.8 134.5 1082.0 132.5C1080.2 130.5 1082.0 125.0 1082.0 123.5" fill="none" stroke="#9b9b9b" stroke-width="5.0" stroke-linecap="round" stroke-linejoin="round" filter="url(#b2)"/>
<path d="M1146.0 151.0C1148.0 151.9 1154.3 154.8 1158.0 156.5C1161.7 158.2 1166.3 160.7 1168.0 161.5" fill="none" stroke="#909090" stroke-width="6.0" stroke-linecap="round" stroke-linejoin="round" filter="url(#b2_5)"/>
<path d="M1054.5 124.0C1059.5 121.0 1079.0 121.0 1084.0 124.0C1089.0 127.0 1085.7 136.5 1084.5 142.0C1083.3 147.5 1079.5 153.1 1077.0 157.0C1074.5 160.9 1071.9 165.5 1069.2 165.5C1066.5 165.5 1063.5 160.9 1061.0 157.0C1058.5 153.1 1055.1 147.5 1054.0 142.0C1052.9 136.5 1049.5 127.0 1054.5 124.0Z" fill="#9b9b9b" filter="url(#b2_5)"/>
<g filter="url(#b2_5)"><ellipse cx="1048.0" cy="158.0" rx="8.0" ry="22.0" fill="#303030"/></g>
<g filter="url(#b2_5)"><ellipse cx="1090.0" cy="158.0" rx="8.0" ry="22.0" fill="#303030"/></g>
<g filter="url(#b1_5)"><ellipse cx="1048.5" cy="161.0" rx="2.0" ry="12.0" fill="#171717"/></g>
<g filter="url(#b1_5)"><ellipse cx="1089.5" cy="161.0" rx="2.0" ry="12.0" fill="#171717"/></g>
<path d="M1057.0 124.0C1054.8 122.6 1048.2 123.2 1044.0 123.5C1039.8 123.8 1035.7 124.7 1032.0 125.5C1028.3 126.3 1023.7 125.6 1022.0 128.5C1020.3 131.4 1020.3 141.2 1022.0 143.0C1023.7 144.8 1028.5 141.0 1032.0 139.5C1035.5 138.0 1038.8 135.2 1043.0 134.0C1047.2 132.8 1054.7 133.7 1057.0 132.0C1059.3 130.3 1059.2 125.4 1057.0 124.0Z" fill="#bababa" filter="url(#b2_2)"/>
<path d="M1082.0 123.5C1084.3 121.9 1091.3 122.7 1096.0 123.0C1100.7 123.3 1105.7 124.2 1110.0 125.5C1114.3 126.8 1118.2 128.5 1122.0 130.5C1125.8 132.5 1130.0 135.1 1133.0 137.5C1136.0 139.9 1139.8 142.8 1140.0 145.0C1140.2 147.2 1136.5 149.4 1134.0 150.5C1131.5 151.6 1127.7 150.9 1125.0 151.5C1122.3 152.1 1120.3 154.4 1118.0 154.0C1115.7 153.6 1113.5 151.1 1111.0 149.0C1108.5 146.9 1106.0 143.8 1103.0 141.5C1100.0 139.2 1096.5 137.0 1093.0 135.5C1089.5 134.0 1083.8 134.5 1082.0 132.5C1080.2 130.5 1079.7 125.1 1082.0 123.5Z" fill="#bababa" filter="url(#b2_2)"/>
<g filter="url(#b2_5)"><ellipse cx="1069.2" cy="141.0" rx="11.0" ry="15.5" fill="#b4b4b4"/></g>
<g filter="url(#b1_8)"><ellipse cx="1069.2" cy="134.2" rx="11.5" ry="9.5" fill="#cfcfcf"/></g>
<g filter="url(#b1_3)"><ellipse cx="1069.2" cy="133.8" rx="8.2" ry="5.7" fill="#e3e3e3"/></g>
<g filter="url(#b1)"><ellipse cx="1069.2" cy="133.6" rx="4.6" ry="2.8" fill="#f2f2f2"/></g>
<path d="M1216.0 148.5C1218.7 147.3 1226.7 143.9 1232.0 141.5C1237.3 139.1 1245.3 135.2 1248.0 134.0" fill="none" stroke="#9b9b9b" stroke-width="10.0" stroke-linecap="round" stroke-linejoin="round" filter="url(#b2_5)"/>
<path d="M1289.0 127.0C1291.2 126.6 1297.9 124.5 1302.4 124.5C1306.9 124.5 1313.7 126.6 1316.0 127.0" fill="none" stroke="#9b9b9b" stroke-width="7.5" stroke-linecap="round" stroke-linejoin="round" filter="url(#b2)"/>
<path d="M1357.0 145.0C1357.3 146.8 1358.7 154.2 1359.0 156.0" fill="none" stroke="#9b9b9b" stroke-width="8.0" stroke-linecap="round" stroke-linejoin="round" filter="url(#b2)"/>
<path d="M1292.0 124.5C1287.7 123.3 1273.8 123.7 1266.0 125.0C1258.2 126.3 1247.6 130.2 1245.0 132.5C1242.4 134.8 1247.6 137.0 1250.5 139.0C1253.4 141.0 1260.0 141.6 1262.5 144.5C1265.0 147.4 1263.2 154.3 1265.5 156.5C1267.8 158.7 1273.8 159.6 1276.5 157.5C1279.2 155.4 1278.9 148.2 1281.5 144.0C1284.1 139.8 1290.2 135.2 1292.0 132.0C1293.8 128.8 1296.3 125.7 1292.0 124.5Z" fill="#9b9b9b" filter="url(#b2)"/>
<path d="M1292.0 124.5C1287.7 124.6 1273.8 123.7 1266.0 125.0C1258.2 126.3 1247.6 130.2 1245.0 132.5C1242.4 134.8 1247.6 137.0 1250.5 139.0C1253.4 141.0 1260.0 141.6 1262.5 144.5C1265.0 147.4 1263.2 154.3 1265.5 156.5C1267.8 158.7 1273.8 159.6 1276.5 157.5C1279.2 155.4 1278.9 148.2 1281.5 144.0C1284.1 139.8 1290.2 135.2 1292.0 132.0C1293.8 128.8 1292.0 125.8 1292.0 124.5" fill="none" stroke="#9b9b9b" stroke-width="5.0" stroke-linecap="round" stroke-linejoin="round" filter="url(#b2)"/>
<path d="M1314.0 125.5C1316.8 124.2 1326.2 123.5 1332.0 124.0C1337.8 124.5 1344.7 126.2 1349.0 128.5C1353.3 130.8 1356.7 134.6 1358.0 138.0C1359.3 141.4 1359.4 146.4 1357.0 149.0C1354.6 151.6 1347.2 151.8 1343.5 153.5C1339.8 155.2 1336.9 159.1 1334.5 159.0C1332.1 158.9 1330.9 156.3 1329.0 153.0C1327.1 149.7 1325.3 142.5 1323.0 139.0C1320.7 135.5 1316.5 134.2 1315.0 132.0C1313.5 129.8 1311.2 126.8 1314.0 125.5Z" fill="#9b9b9b" filter="url(#b2)"/>
<path d="M1314.0 125.5C1317.0 125.2 1326.2 123.5 1332.0 124.0C1337.8 124.5 1344.7 126.2 1349.0 128.5C1353.3 130.8 1356.7 134.6 1358.0 138.0C1359.3 141.4 1359.4 146.4 1357.0 149.0C1354.6 151.6 1347.2 151.8 1343.5 153.5C1339.8 155.2 1336.9 159.1 1334.5 159.0C1332.1 158.9 1330.9 156.3 1329.0 153.0C1327.1 149.7 1325.3 142.5 1323.0 139.0C1320.7 135.5 1316.5 134.2 1315.0 132.0C1313.5 129.8 1314.2 126.6 1314.0 125.5" fill="none" stroke="#9b9b9b" stroke-width="5.0" stroke-linecap="round" stroke-linejoin="round" filter="url(#b2)"/>
<path d="M1292.0 124.0C1295.6 121.0 1309.4 121.0 1313.0 124.0C1316.6 127.0 1314.3 136.7 1313.5 142.0C1312.7 147.3 1309.8 152.2 1308.0 156.0C1306.2 159.8 1304.2 164.5 1302.4 164.5C1300.6 164.5 1298.8 159.8 1297.0 156.0C1295.2 152.2 1292.3 147.3 1291.5 142.0C1290.7 136.7 1288.4 127.0 1292.0 124.0Z" fill="#9b9b9b" filter="url(#b2_5)"/>
<g filter="url(#b2_5)"><ellipse cx="1285.0" cy="158.0" rx="7.5" ry="21.0" fill="#303030"/></g>
<g filter="url(#b2_5)"><ellipse cx="1320.0" cy="158.0" rx="7.5" ry="21.0" fill="#303030"/></g>
<g filter="url(#b1_5)"><ellipse cx="1285.0" cy="161.0" rx="2.0" ry="11.0" fill="#171717"/></g>
<g filter="url(#b1_5)"><ellipse cx="1320.0" cy="161.0" rx="2.0" ry="11.0" fill="#171717"/></g>
<path d="M1292.0 124.5C1287.7 123.3 1273.8 123.7 1266.0 125.0C1258.2 126.3 1247.6 130.2 1245.0 132.5C1242.4 134.8 1247.6 137.0 1250.5 139.0C1253.4 141.0 1260.0 141.6 1262.5 144.5C1265.0 147.4 1263.2 154.3 1265.5 156.5C1267.8 158.7 1273.8 159.6 1276.5 157.5C1279.2 155.4 1278.9 148.2 1281.5 144.0C1284.1 139.8 1290.2 135.2 1292.0 132.0C1293.8 128.8 1296.3 125.7 1292.0 124.5Z" fill="#bababa" filter="url(#b2_2)"/>
<path d="M1314.0 125.5C1316.8 124.2 1326.2 123.5 1332.0 124.0C1337.8 124.5 1344.7 126.2 1349.0 128.5C1353.3 130.8 1356.7 134.6 1358.0 138.0C1359.3 141.4 1359.4 146.4 1357.0 149.0C1354.6 151.6 1347.2 151.8 1343.5 153.5C1339.8 155.2 1336.9 159.1 1334.5 159.0C1332.1 158.9 1330.9 156.3 1329.0 153.0C1327.1 149.7 1325.3 142.5 1323.0 139.0C1320.7 135.5 1316.5 134.2 1315.0 132.0C1313.5 129.8 1311.2 126.8 1314.0 125.5Z" fill="#bababa" filter="url(#b2_2)"/>
<g filter="url(#b2_5)"><ellipse cx="1302.4" cy="142.0" rx="6.0" ry="12.0" fill="#afafaf"/></g>
<g filter="url(#b1_6)"><ellipse cx="1302.4" cy="137.0" rx="7.8" ry="7.0" fill="#cfcfcf"/></g>
<g filter="url(#b1_2)"><ellipse cx="1302.4" cy="136.4" rx="5.0" ry="4.2" fill="#e3e3e3"/></g>
<g filter="url(#b0_8)"><ellipse cx="1302.4" cy="136.1" rx="2.6" ry="2.0" fill="#eaeaea"/></g>
<path d="M1116.0 188.5C1119.3 187.5 1129.7 184.0 1136.0 182.5C1142.3 181.0 1147.7 181.2 1154.0 179.4C1160.3 177.7 1167.3 174.1 1174.0 172.0C1180.7 169.9 1188.3 167.5 1194.0 167.0C1199.7 166.5 1203.8 167.7 1208.0 169.0C1212.2 170.3 1214.0 173.0 1219.0 175.0C1224.0 177.0 1231.5 179.1 1238.0 181.0C1244.5 182.9 1254.7 185.7 1258.0 186.6" fill="none" stroke="#9b9b9b" stroke-width="15.5" stroke-linecap="round" stroke-linejoin="round" filter="url(#b2_5)"/>
<path d="M1098.0 199.0C1101.0 197.2 1109.7 191.2 1116.0 188.5C1122.3 185.8 1132.7 183.5 1136.0 182.5" fill="none" stroke="#999999" stroke-width="8.0" stroke-linecap="round" stroke-linejoin="round" filter="url(#b2_5)"/>
<path d="M1238.0 181.0C1241.3 181.9 1252.0 184.4 1258.0 186.6C1264.0 188.8 1271.3 192.8 1274.0 194.0" fill="none" stroke="#999999" stroke-width="8.0" stroke-linecap="round" stroke-linejoin="round" filter="url(#b2_5)"/>
<path d="M1274.0 194.0C1276.3 194.9 1283.5 197.9 1288.0 199.5C1292.5 201.1 1298.8 202.8 1301.0 203.5" fill="none" stroke="#979797" stroke-width="5.0" stroke-linecap="round" stroke-linejoin="round" filter="url(#b2)"/>
<path d="M1098.0 199.0C1097.0 199.7 1093.0 202.3 1092.0 203.0" fill="none" stroke="#909090" stroke-width="7.0" stroke-linecap="round" stroke-linejoin="round" filter="url(#b2_5)"/>
<path d="M1116.0 188.5C1119.3 187.5 1129.7 184.0 1136.0 182.5C1142.3 181.0 1147.7 181.2 1154.0 179.4C1160.3 177.7 1167.3 174.1 1174.0 172.0C1180.7 169.9 1188.3 167.5 1194.0 167.0C1199.7 166.5 1203.8 167.7 1208.0 169.0C1212.2 170.3 1214.0 173.0 1219.0 175.0C1224.0 177.0 1231.5 179.1 1238.0 181.0C1244.5 182.9 1254.7 185.7 1258.0 186.6" fill="none" stroke="#b4b4b4" stroke-width="8.5" stroke-linecap="round" stroke-linejoin="round" filter="url(#b2_2)"/>
<path d="M1130.0 184.0C1132.3 183.5 1139.0 182.0 1144.0 181.0C1149.0 180.0 1154.7 179.6 1160.0 178.0C1165.3 176.4 1170.7 173.2 1176.0 171.5C1181.3 169.8 1189.3 168.2 1192.0 167.5" fill="none" stroke="#c3c3c3" stroke-width="4.5" stroke-linecap="round" stroke-linejoin="round" filter="url(#b2)"/>
<path d="M1212.0 172.0C1213.7 172.7 1218.0 174.6 1222.0 176.0C1226.0 177.4 1231.0 179.0 1236.0 180.5C1241.0 182.0 1249.3 184.2 1252.0 185.0" fill="none" stroke="#c3c3c3" stroke-width="4.5" stroke-linecap="round" stroke-linejoin="round" filter="url(#b2)"/>
<g filter="url(#b1_8)"><ellipse cx="1154.0" cy="179.6" rx="7.0" ry="4.5" fill="#cbcbcb"/></g>
<g filter="url(#b1_8)"><ellipse cx="1219.0" cy="175.0" rx="7.0" ry="4.5" fill="#cbcbcb"/></g>
<g filter="url(#b1_8)"><ellipse cx="1174.0" cy="172.3" rx="6.0" ry="3.0" fill="#c6c6c6"/></g>
<g filter="url(#b1_8)"><ellipse cx="1238.0" cy="181.0" rx="6.0" ry="3.5" fill="#c6c6c6"/></g>
<g filter="url(#b1_2)"><ellipse cx="1154.0" cy="179.8" rx="3.2" ry="2.2" fill="#d4d4d4"/></g>
<g filter="url(#b1_2)"><ellipse cx="1219.0" cy="175.2" rx="3.2" ry="2.2" fill="#d4d4d4"/></g>
<rect x="996.0" y="58.0" width="391.0" height="62" fill="url(#band2)"/>
</g></g>
<g stroke="#0d0d0d" stroke-width="1.3" fill="none">
<path d="M1025.5 60.0H1357.0"/>
<path d="M1025.9 60.0V406.0"/>
<path d="M1025.5 405.8H1357.0" stroke-width="1"/>
<path d="M1356.6 60.0V406.0" stroke-width="1"/>
<path d="M1060.4 60.0V54.7"/>
<path d="M1132.8 60.0V54.7"/>
<path d="M1205.3 60.0V54.7"/>
<path d="M1277.8 60.0V54.7"/>
<path d="M1350.2 60.0V54.7"/>
<path d="M1026.0 60.0H1020.4"/>
<path d="M1026.0 129.1H1020.4"/>
<path d="M1026.0 198.2H1020.4"/>
<path d="M1026.0 267.4H1020.4"/>
<path d="M1026.0 336.5H1020.4"/>
<path d="M1026.0 405.6H1020.4"/>
</g>
<g font-family="Liberation Serif, serif" font-size="23.2" fill="#231f20">
<text x="1061.1" y="50.6" text-anchor="middle">10</text>
<text x="1133.5" y="50.6" text-anchor="middle">30</text>
<text x="1206.0" y="50.6" text-anchor="middle">50</text>
<text x="1278.5" y="50.6" text-anchor="middle">70</text>
<text x="1350.9" y="50.6" text-anchor="middle">90</text>
<text x="1017.2" y="67.7" text-anchor="end">0</text>
<text x="1017.2" y="136.8" text-anchor="end">20</text>
<text x="1017.2" y="205.9" text-anchor="end">40</text>
<text x="1017.2" y="275.1" text-anchor="end">60</text>
<text x="1017.2" y="344.2" text-anchor="end">80</text>
<text x="1017.2" y="413.3" text-anchor="end">100</text>
<text transform="translate(985.7 236.8) rotate(-90)" text-anchor="middle" font-size="22.6"><tspan font-style="italic">t</tspan>/ns</text>
<text x="1362.3" y="156.3" font-style="italic">A</text>
<text x="1381.3" y="197.4">0.05</text>
<text x="1381.3" y="245.4">0.04</text>
<text x="1381.3" y="293.5">0.03</text>
<text x="1381.3" y="341.6">0.02</text>
<text x="1381.3" y="389.6">0.01</text>
</g>
<rect x="1362.0" y="163.6" width="12.7" height="241.8" fill="url(#cb2)"/>
<g stroke="#231f20" stroke-width="1" fill="none">
<path d="M1362.2 163.6V405.4M1374.5 163.6V405.4" stroke="#0d0d0d" stroke-opacity="0.9" stroke-width="1"/>
<path d="M1374.7 189.4h4.8"/>
<path d="M1374.7 237.4h4.8"/>
<path d="M1374.7 285.5h4.8"/>
<path d="M1374.7 333.6h4.8"/>
<path d="M1374.7 381.6h4.8"/>
</g>
<text x="1165.1" y="23.6" font-family='"Liberation Serif","Noto Serif CJK SC",serif' font-size="22" letter-spacing="0.3" fill="#231f20">道数</text>
<g font-family="Liberation Serif, serif" font-size="22.8" fill="#231f20">
<text x="144.0" y="442.3">(a)</text>
<text x="680.0" y="442.3">(b) LMSST</text>
<text x="1104.8" y="442.3">(c)</text>
<text x="1205.4" y="442.3" font-size="22.4">LMSST</text>
</g>
<text x="175.4" y="442.6" font-family='"Liberation Serif","Noto Serif CJK SC",serif' font-size="22.2" letter-spacing="0.6" fill="#231f20">短时傅里叶变换</text>
<text x="1137.0" y="442.6" font-family='"Liberation Serif","Noto Serif CJK SC",serif' font-size="22.2" letter-spacing="0.6" fill="#231f20">改进的</text>
</svg></body></html>
